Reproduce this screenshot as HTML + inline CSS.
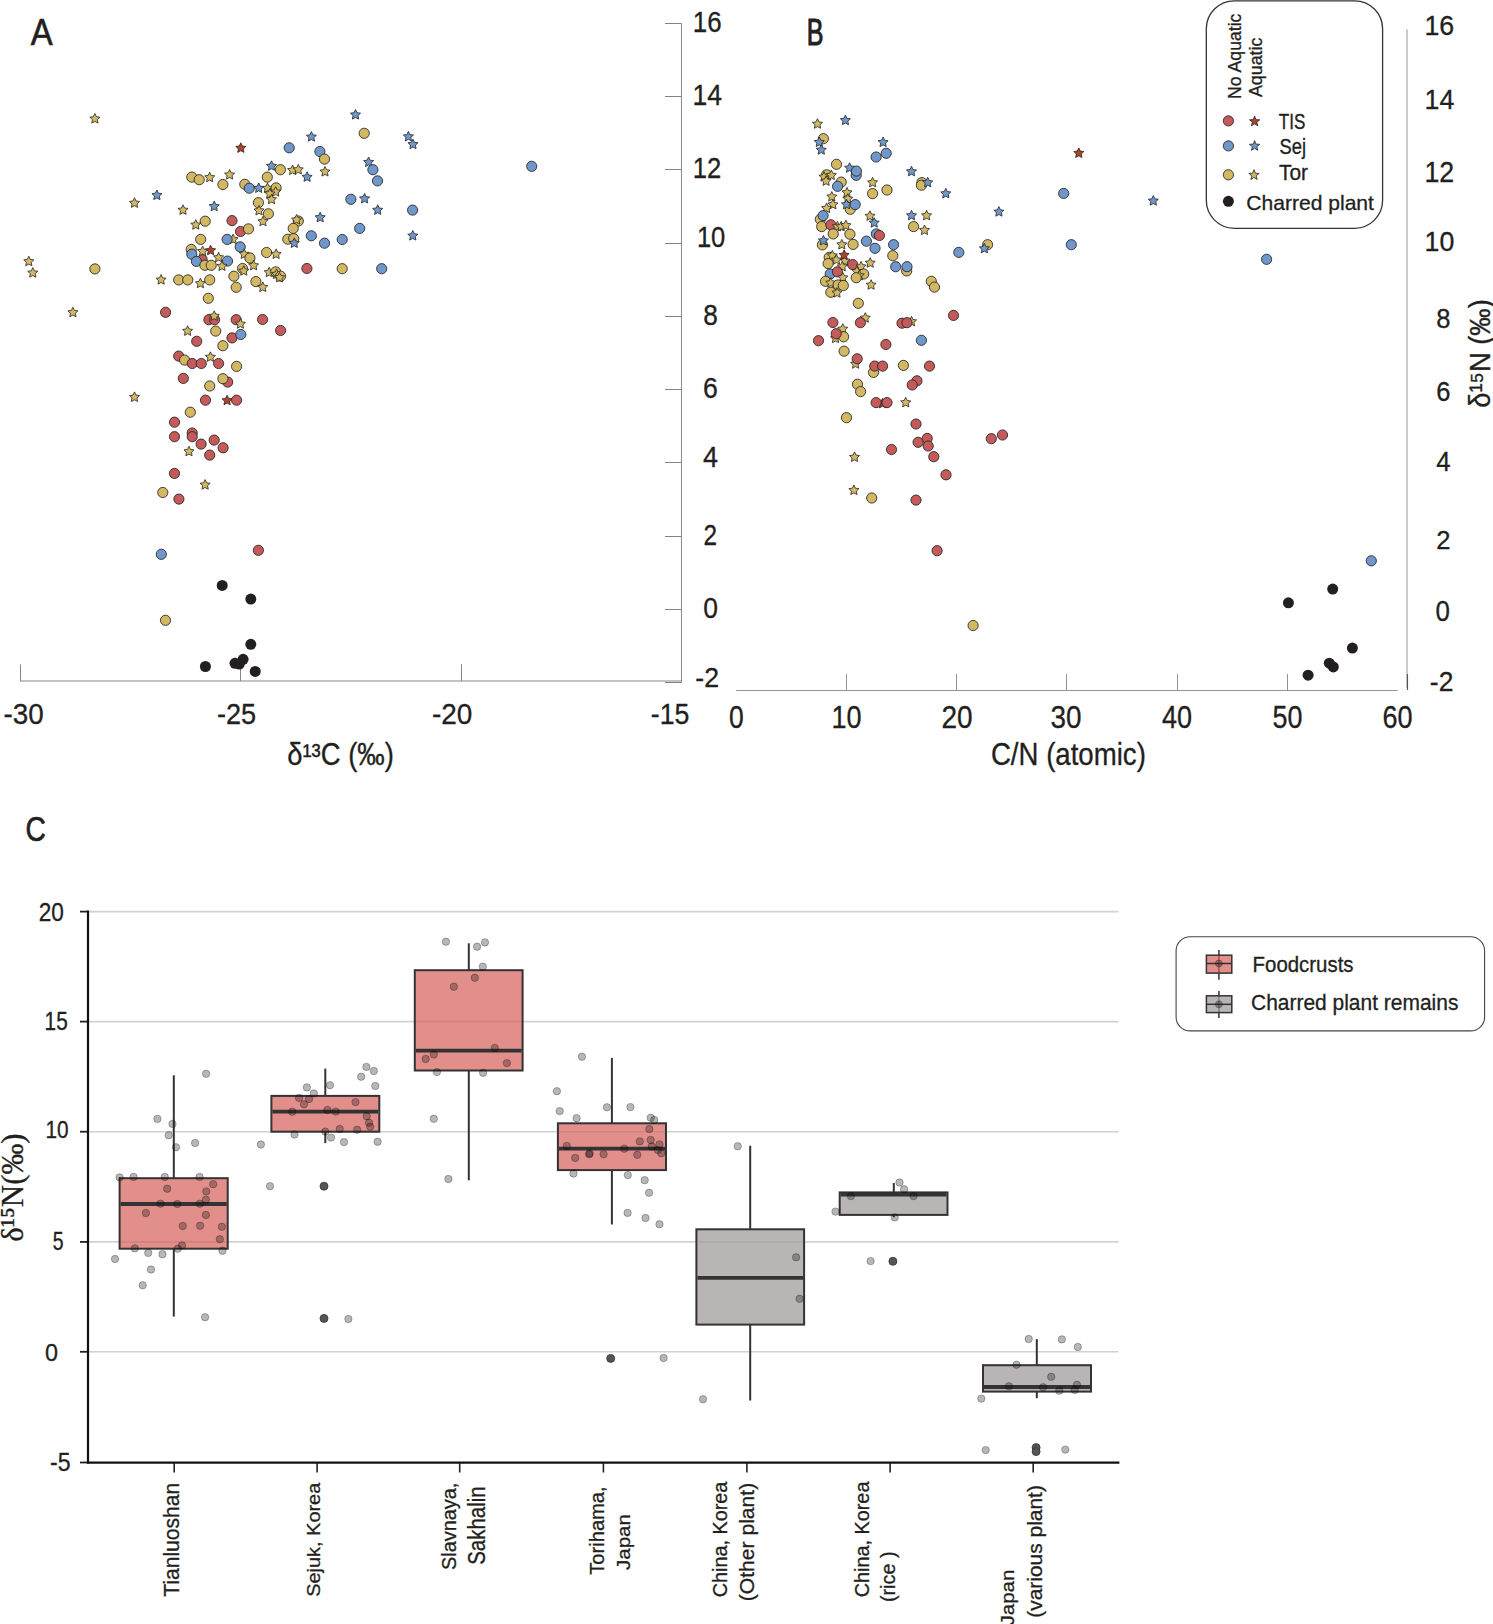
<!DOCTYPE html>
<html><head><meta charset="utf-8"><style>
html,body{margin:0;padding:0;background:#fff;}
body{width:1493px;height:1624px;overflow:hidden;font-family:"Liberation Sans",sans-serif;}
svg{display:block;}
</style></head><body>
<svg width="1493" height="1624" viewBox="0 0 1493 1624">
<rect width="1493" height="1624" fill="#fff"/>
<line x1="20" y1="681" x2="682" y2="681" stroke="#c2c2c2" stroke-width="2" />
<line x1="681.5" y1="23.3" x2="681.5" y2="682.6" stroke="#8a8a8a" stroke-width="1" />
<line x1="20.5" y1="664.4" x2="20.5" y2="681" stroke="#858585" stroke-width="1" />
<line x1="240.5" y1="664.4" x2="240.5" y2="681" stroke="#858585" stroke-width="1" />
<line x1="461.5" y1="664.4" x2="461.5" y2="681" stroke="#858585" stroke-width="1" />
<line x1="665" y1="23.5" x2="681.5" y2="23.5" stroke="#828282" stroke-width="1" />
<line x1="665" y1="96.5" x2="681.5" y2="96.5" stroke="#828282" stroke-width="1" />
<line x1="665" y1="169.5" x2="681.5" y2="169.5" stroke="#828282" stroke-width="1" />
<line x1="665" y1="243.5" x2="681.5" y2="243.5" stroke="#828282" stroke-width="1" />
<line x1="665" y1="316.5" x2="681.5" y2="316.5" stroke="#828282" stroke-width="1" />
<line x1="665" y1="389.5" x2="681.5" y2="389.5" stroke="#828282" stroke-width="1" />
<line x1="665" y1="462.5" x2="681.5" y2="462.5" stroke="#828282" stroke-width="1" />
<line x1="665" y1="536.5" x2="681.5" y2="536.5" stroke="#828282" stroke-width="1" />
<line x1="665" y1="609.5" x2="681.5" y2="609.5" stroke="#828282" stroke-width="1" />
<line x1="665" y1="682.5" x2="681.5" y2="682.5" stroke="#828282" stroke-width="1" />
<text transform="translate(692.80,31.81) scale(0.12973,0.14577)" font-family='"Liberation Sans", sans-serif' font-size="200" fill="#231f20" stroke="#231f20" stroke-width="2.18">16</text>
<text transform="translate(692.40,105.20) scale(0.13288,0.15072)" font-family='"Liberation Sans", sans-serif' font-size="200" fill="#231f20" stroke="#231f20" stroke-width="2.12">14</text>
<text transform="translate(692.80,178.20) scale(0.12793,0.14571)" font-family='"Liberation Sans", sans-serif' font-size="200" fill="#231f20" stroke="#231f20" stroke-width="2.19">12</text>
<text transform="translate(696.90,247.41) scale(0.12793,0.14718)" font-family='"Liberation Sans", sans-serif' font-size="200" fill="#231f20" stroke="#231f20" stroke-width="2.18">10</text>
<text transform="translate(703.30,324.60) scale(0.13153,0.14930)" font-family='"Liberation Sans", sans-serif' font-size="200" fill="#231f20" stroke="#231f20" stroke-width="2.14">8</text>
<text transform="translate(703.10,397.70) scale(0.13333,0.14789)" font-family='"Liberation Sans", sans-serif' font-size="200" fill="#231f20" stroke="#231f20" stroke-width="2.13">6</text>
<text transform="translate(702.90,467.40) scale(0.13514,0.15072)" font-family='"Liberation Sans", sans-serif' font-size="200" fill="#231f20" stroke="#231f20" stroke-width="2.10">4</text>
<text transform="translate(703.60,544.50) scale(0.12162,0.14286)" font-family='"Liberation Sans", sans-serif' font-size="200" fill="#231f20" stroke="#231f20" stroke-width="2.27">2</text>
<text transform="translate(703.30,617.71) scale(0.13243,0.14648)" font-family='"Liberation Sans", sans-serif' font-size="200" fill="#231f20" stroke="#231f20" stroke-width="2.15">0</text>
<text transform="translate(695.30,687.10) scale(0.13371,0.14286)" font-family='"Liberation Sans", sans-serif' font-size="200" fill="#231f20" stroke="#231f20" stroke-width="2.17">-2</text>
<text transform="translate(3.60,724.40) scale(0.13910,0.15141)" font-family='"Liberation Sans", sans-serif' font-size="200" fill="#231f20" stroke="#231f20" stroke-width="2.07">-30</text>
<text transform="translate(217.00,724.40) scale(0.13564,0.15141)" font-family='"Liberation Sans", sans-serif' font-size="200" fill="#231f20" stroke="#231f20" stroke-width="2.09">-25</text>
<text transform="translate(432.00,724.40) scale(0.13979,0.15141)" font-family='"Liberation Sans", sans-serif' font-size="200" fill="#231f20" stroke="#231f20" stroke-width="2.06">-20</text>
<text transform="translate(650.80,724.41) scale(0.13356,0.14357)" font-family='"Liberation Sans", sans-serif' font-size="200" fill="#231f20" stroke="#231f20" stroke-width="2.17">-15</text>
<text transform="translate(287.20,765.00) scale(0.13715,0.15580)" font-family='"Liberation Sans", sans-serif' font-size="200" fill="#231f20" stroke="#231f20" stroke-width="2.05">δ¹³C (‰)</text>
<text transform="translate(30.80,45.00) scale(0.16418,0.18623)" font-family='"Liberation Sans", sans-serif' font-size="200" fill="#231f20" stroke="#231f20" stroke-width="3.42">A</text>
<line x1="736.2" y1="690.5" x2="1397.7" y2="690.5" stroke="#939393" stroke-width="1" />
<line x1="846.5" y1="674" x2="846.5" y2="690.5" stroke="#909090" stroke-width="1" />
<line x1="956.5" y1="674" x2="956.5" y2="690.5" stroke="#909090" stroke-width="1" />
<line x1="1066.5" y1="674" x2="1066.5" y2="690.5" stroke="#909090" stroke-width="1" />
<line x1="1177.5" y1="674" x2="1177.5" y2="690.5" stroke="#909090" stroke-width="1" />
<line x1="1287.5" y1="674" x2="1287.5" y2="690.5" stroke="#909090" stroke-width="1" />
<line x1="1407" y1="29.2" x2="1407" y2="688" stroke="#c4c4c4" stroke-width="1.8" />
<line x1="1407.5" y1="674" x2="1407.5" y2="690" stroke="#555" stroke-width="1.1" />
<text transform="translate(729.00,727.69) scale(0.13243,0.15352)" font-family='"Liberation Sans", sans-serif' font-size="200" fill="#231f20" stroke="#231f20" stroke-width="2.10">0</text>
<text transform="translate(831.40,727.69) scale(0.13514,0.15352)" font-family='"Liberation Sans", sans-serif' font-size="200" fill="#231f20" stroke="#231f20" stroke-width="2.08">10</text>
<text transform="translate(941.40,727.69) scale(0.14009,0.15352)" font-family='"Liberation Sans", sans-serif' font-size="200" fill="#231f20" stroke="#231f20" stroke-width="2.04">20</text>
<text transform="translate(1050.40,727.69) scale(0.13964,0.15352)" font-family='"Liberation Sans", sans-serif' font-size="200" fill="#231f20" stroke="#231f20" stroke-width="2.05">30</text>
<text transform="translate(1162.00,727.69) scale(0.13514,0.15352)" font-family='"Liberation Sans", sans-serif' font-size="200" fill="#231f20" stroke="#231f20" stroke-width="2.08">40</text>
<text transform="translate(1272.60,727.69) scale(0.13468,0.15352)" font-family='"Liberation Sans", sans-serif' font-size="200" fill="#231f20" stroke="#231f20" stroke-width="2.08">50</text>
<text transform="translate(1382.60,727.69) scale(0.13514,0.15352)" font-family='"Liberation Sans", sans-serif' font-size="200" fill="#231f20" stroke="#231f20" stroke-width="2.08">60</text>
<text transform="translate(1424.50,35.13) scale(0.13378,0.13662)" font-family='"Liberation Sans", sans-serif' font-size="200" fill="#231f20" stroke="#231f20" stroke-width="2.22">16</text>
<text transform="translate(1424.50,108.60) scale(0.13378,0.14058)" font-family='"Liberation Sans", sans-serif' font-size="200" fill="#231f20" stroke="#231f20" stroke-width="2.19">14</text>
<text transform="translate(1424.50,181.80) scale(0.13378,0.14429)" font-family='"Liberation Sans", sans-serif' font-size="200" fill="#231f20" stroke="#231f20" stroke-width="2.16">12</text>
<text transform="translate(1424.50,251.12) scale(0.13378,0.14085)" font-family='"Liberation Sans", sans-serif' font-size="200" fill="#231f20" stroke="#231f20" stroke-width="2.18">10</text>
<text transform="translate(1436.20,327.53) scale(0.12793,0.13662)" font-family='"Liberation Sans", sans-serif' font-size="200" fill="#231f20" stroke="#231f20" stroke-width="2.27">8</text>
<text transform="translate(1436.20,401.13) scale(0.12793,0.13662)" font-family='"Liberation Sans", sans-serif' font-size="200" fill="#231f20" stroke="#231f20" stroke-width="2.27">6</text>
<text transform="translate(1436.20,471.20) scale(0.12793,0.14058)" font-family='"Liberation Sans", sans-serif' font-size="200" fill="#231f20" stroke="#231f20" stroke-width="2.23">4</text>
<text transform="translate(1436.20,548.70) scale(0.12793,0.12929)" font-family='"Liberation Sans", sans-serif' font-size="200" fill="#231f20" stroke="#231f20" stroke-width="2.33">2</text>
<text transform="translate(1435.50,621.21) scale(0.12973,0.14648)" font-family='"Liberation Sans", sans-serif' font-size="200" fill="#231f20" stroke="#231f20" stroke-width="2.17">0</text>
<text transform="translate(1429.80,690.70) scale(0.13258,0.13929)" font-family='"Liberation Sans", sans-serif' font-size="200" fill="#231f20" stroke="#231f20" stroke-width="2.21">-2</text>
<text transform="translate(990.90,765.20) scale(0.13815,0.15362)" font-family='"Liberation Sans", sans-serif' font-size="200" fill="#231f20" stroke="#231f20" stroke-width="2.06">C/N (atomic)</text>
<text transform="translate(1489.50,407.70) rotate(-90) scale(0.13665,0.15000)" font-family='"Liberation Sans", sans-serif' font-size="200" fill="#231f20" stroke="#231f20" stroke-width="2.09">δ¹⁵N (‰)</text>
<text transform="translate(806.80,44.60) scale(0.12556,0.18188)" font-family='"Liberation Sans", sans-serif' font-size="200" fill="#231f20" stroke="#231f20" stroke-width="5.85">B</text>
<rect x="1206.3" y="0.8" width="176.3" height="227.5" rx="28" ry="28" fill="none" stroke="#333" stroke-width="1.3"/>
<text transform="translate(1240.90,98.90) rotate(-90) scale(0.08821,0.09565)" font-family='"Liberation Sans", sans-serif' font-size="200" fill="#231f20" stroke="#231f20" stroke-width="3.26">No Aquatic</text>
<text transform="translate(1262.20,97.10) rotate(-90) scale(0.08921,0.09638)" font-family='"Liberation Sans", sans-serif' font-size="200" fill="#231f20" stroke="#231f20" stroke-width="3.23">Aquatic</text>
<circle cx="1228.4" cy="120.9" r="5.1" fill="#c55a5a" stroke="#222" stroke-width="0.85"/>
<polygon points="1254.60,116.10 1255.95,119.64 1259.74,119.83 1256.79,122.21 1257.77,125.87 1254.60,123.80 1251.43,125.87 1252.41,122.21 1249.46,119.83 1253.25,119.64" fill="#b0412a" stroke="#222" stroke-width="0.8" stroke-linejoin="miter"/>
<circle cx="1228.4" cy="145.9" r="5.1" fill="#7097c9" stroke="#222" stroke-width="0.85"/>
<polygon points="1254.60,140.60 1255.95,144.14 1259.74,144.33 1256.79,146.71 1257.77,150.37 1254.60,148.30 1251.43,150.37 1252.41,146.71 1249.46,144.33 1253.25,144.14" fill="#7097c9" stroke="#222" stroke-width="0.8" stroke-linejoin="miter"/>
<circle cx="1228.4" cy="174.8" r="5.1" fill="#d3b863" stroke="#222" stroke-width="0.85"/>
<polygon points="1254.00,169.70 1255.35,173.24 1259.14,173.43 1256.19,175.81 1257.17,179.47 1254.00,177.40 1250.83,179.47 1251.81,175.81 1248.86,173.43 1252.65,173.24" fill="#d3b863" stroke="#222" stroke-width="0.8" stroke-linejoin="miter"/>
<circle cx="1228.4" cy="201.3" r="5.5" fill="#231f20"/>
<text transform="translate(1278.70,129.09) scale(0.08553,0.10704)" font-family='"Liberation Sans", sans-serif' font-size="200" fill="#231f20" stroke="#231f20" stroke-width="3.12">TIS</text>
<text transform="translate(1279.50,154.40) scale(0.09170,0.10725)" font-family='"Liberation Sans", sans-serif' font-size="200" fill="#231f20" stroke="#231f20" stroke-width="3.02">Sej</text>
<text transform="translate(1279.00,180.39) scale(0.10432,0.10571)" font-family='"Liberation Sans", sans-serif' font-size="200" fill="#231f20" stroke="#231f20" stroke-width="2.86">Tor</text>
<text transform="translate(1246.20,209.50) scale(0.10545,0.10507)" font-family='"Liberation Sans", sans-serif' font-size="200" fill="#231f20" stroke="#231f20" stroke-width="2.85">Charred plant</text>
<text transform="translate(25.50,840.96) scale(0.14097,0.17183)" font-family='"Liberation Sans", sans-serif' font-size="200" fill="#231f20" stroke="#231f20" stroke-width="3.84">C</text>
<line x1="88" y1="911.6" x2="1118.6" y2="911.6" stroke="#d2d2d2" stroke-width="1.6" />
<line x1="88" y1="1021.6" x2="1118.6" y2="1021.6" stroke="#d2d2d2" stroke-width="1.6" />
<line x1="88" y1="1131.7" x2="1118.6" y2="1131.7" stroke="#d2d2d2" stroke-width="1.6" />
<line x1="88" y1="1241.9" x2="1118.6" y2="1241.9" stroke="#d2d2d2" stroke-width="1.6" />
<line x1="88" y1="1351.8" x2="1118.6" y2="1351.8" stroke="#d2d2d2" stroke-width="1.6" />
<line x1="80" y1="911.6" x2="88" y2="911.6" stroke="#231f20" stroke-width="1.8" />
<line x1="80" y1="1021.6" x2="88" y2="1021.6" stroke="#231f20" stroke-width="1.8" />
<line x1="80" y1="1131.7" x2="88" y2="1131.7" stroke="#231f20" stroke-width="1.8" />
<line x1="80" y1="1241.9" x2="88" y2="1241.9" stroke="#231f20" stroke-width="1.8" />
<line x1="80" y1="1351.8" x2="88" y2="1351.8" stroke="#231f20" stroke-width="1.8" />
<line x1="80" y1="1462.5" x2="88" y2="1462.5" stroke="#231f20" stroke-width="1.8" />
<text transform="translate(38.80,921.35) scale(0.11306,0.12465)" font-family='"Liberation Sans", sans-serif' font-size="200" fill="#231f20" stroke="#231f20" stroke-width="2.52">20</text>
<text transform="translate(44.60,1029.85) scale(0.10405,0.12643)" font-family='"Liberation Sans", sans-serif' font-size="200" fill="#231f20" stroke="#231f20" stroke-width="2.60">15</text>
<text transform="translate(45.40,1137.96) scale(0.10405,0.12113)" font-family='"Liberation Sans", sans-serif' font-size="200" fill="#231f20" stroke="#231f20" stroke-width="2.66">10</text>
<text transform="translate(52.70,1250.25) scale(0.09730,0.12643)" font-family='"Liberation Sans", sans-serif' font-size="200" fill="#231f20" stroke="#231f20" stroke-width="2.68">5</text>
<text transform="translate(45.00,1360.75) scale(0.11712,0.12324)" font-family='"Liberation Sans", sans-serif' font-size="200" fill="#231f20" stroke="#231f20" stroke-width="2.50">0</text>
<text transform="translate(50.00,1470.75) scale(0.11517,0.12500)" font-family='"Liberation Sans", sans-serif' font-size="200" fill="#231f20" stroke="#231f20" stroke-width="2.50">-5</text>
<text transform="translate(22.88,1241.70) rotate(-90) scale(0.15442,0.15628)" font-family='"Liberation Serif", serif' font-size="200" fill="#231f20" stroke="#231f20" stroke-width="1.93">δ¹⁵N(‰)</text>
<line x1="173.8" y1="1075.3" x2="173.8" y2="1178.2" stroke="#333" stroke-width="2" />
<line x1="173.8" y1="1248.7" x2="173.8" y2="1316.6" stroke="#333" stroke-width="2" />
<rect x="119.6" y="1178.2" width="108.1" height="70.5" fill="rgba(214,96,90,0.7)" stroke="#333" stroke-width="2"/>
<line x1="120.6" y1="1204" x2="226.7" y2="1204" stroke="#333" stroke-width="3.8" />
<line x1="325.3" y1="1068.6" x2="325.3" y2="1095.9" stroke="#333" stroke-width="2" />
<line x1="325.3" y1="1131.7" x2="325.3" y2="1143.1" stroke="#333" stroke-width="2" />
<rect x="271.4" y="1095.9" width="107.90000000000003" height="35.799999999999955" fill="rgba(214,96,90,0.7)" stroke="#333" stroke-width="2"/>
<line x1="272.4" y1="1111.6" x2="378.3" y2="1111.6" stroke="#333" stroke-width="3.8" />
<line x1="468.8" y1="943.3" x2="468.8" y2="970.2" stroke="#333" stroke-width="2" />
<line x1="468.8" y1="1070.5" x2="468.8" y2="1180.3" stroke="#333" stroke-width="2" />
<rect x="414.8" y="970.2" width="107.80000000000001" height="100.29999999999995" fill="rgba(214,96,90,0.7)" stroke="#333" stroke-width="2"/>
<line x1="415.8" y1="1050.7" x2="521.6" y2="1050.7" stroke="#333" stroke-width="3.8" />
<line x1="611.9" y1="1057.9" x2="611.9" y2="1123.3" stroke="#333" stroke-width="2" />
<line x1="611.9" y1="1170.1" x2="611.9" y2="1224.5" stroke="#333" stroke-width="2" />
<rect x="557.9" y="1123.3" width="108.10000000000002" height="46.799999999999955" fill="rgba(214,96,90,0.7)" stroke="#333" stroke-width="2"/>
<line x1="558.9" y1="1148.7" x2="665" y2="1148.7" stroke="#333" stroke-width="3.8" />
<line x1="750.2" y1="1145.7" x2="750.2" y2="1229.3" stroke="#333" stroke-width="2" />
<line x1="750.2" y1="1324.6" x2="750.2" y2="1400.5" stroke="#333" stroke-width="2" />
<rect x="696.4" y="1229.3" width="107.70000000000005" height="95.29999999999995" fill="rgba(160,154,154,0.73)" stroke="#333" stroke-width="2"/>
<line x1="697.4" y1="1277.9" x2="803.1" y2="1277.9" stroke="#333" stroke-width="3.8" />
<line x1="893.8" y1="1183" x2="893.8" y2="1192.4" stroke="#333" stroke-width="2" />
<line x1="893.8" y1="1214.9" x2="893.8" y2="1217.2" stroke="#333" stroke-width="2" />
<rect x="839.7" y="1192.4" width="107.79999999999995" height="22.5" fill="rgba(160,154,154,0.73)" stroke="#333" stroke-width="2"/>
<line x1="840.7" y1="1194.7" x2="946.5" y2="1194.7" stroke="#333" stroke-width="3.8" />
<line x1="1036.8" y1="1339.1" x2="1036.8" y2="1365.2" stroke="#333" stroke-width="2" />
<line x1="1036.8" y1="1391.6" x2="1036.8" y2="1398.2" stroke="#333" stroke-width="2" />
<rect x="983" y="1365.2" width="108" height="26.399999999999864" fill="rgba(160,154,154,0.73)" stroke="#333" stroke-width="2"/>
<line x1="984" y1="1387" x2="1090" y2="1387" stroke="#333" stroke-width="3.8" />
<circle cx="324" cy="1186.2" r="4" fill="#555" stroke="#333" stroke-width="0.8"/>
<circle cx="324" cy="1318.4" r="4" fill="#555" stroke="#333" stroke-width="0.8"/>
<circle cx="610.7" cy="1358.4" r="4" fill="#555" stroke="#333" stroke-width="0.8"/>
<circle cx="892.9" cy="1261.3" r="4" fill="#555" stroke="#333" stroke-width="0.8"/>
<circle cx="1036.1" cy="1447.6" r="4" fill="#555" stroke="#333" stroke-width="0.8"/>
<circle cx="1036.1" cy="1451.6" r="4" fill="#555" stroke="#333" stroke-width="0.8"/>
<circle cx="206.1" cy="1073.8" r="3.7" fill="rgba(15,15,15,0.3)" stroke="rgba(0,0,0,0.35)" stroke-width="0.8"/>
<circle cx="157.4" cy="1118.9" r="3.7" fill="rgba(15,15,15,0.3)" stroke="rgba(0,0,0,0.35)" stroke-width="0.8"/>
<circle cx="172.5" cy="1123.9" r="3.7" fill="rgba(15,15,15,0.3)" stroke="rgba(0,0,0,0.35)" stroke-width="0.8"/>
<circle cx="168.7" cy="1135.3" r="3.7" fill="rgba(15,15,15,0.3)" stroke="rgba(0,0,0,0.35)" stroke-width="0.8"/>
<circle cx="195.1" cy="1143" r="3.7" fill="rgba(15,15,15,0.3)" stroke="rgba(0,0,0,0.35)" stroke-width="0.8"/>
<circle cx="176" cy="1147.3" r="3.7" fill="rgba(15,15,15,0.3)" stroke="rgba(0,0,0,0.35)" stroke-width="0.8"/>
<circle cx="119.6" cy="1177.4" r="3.7" fill="rgba(15,15,15,0.3)" stroke="rgba(0,0,0,0.35)" stroke-width="0.8"/>
<circle cx="133.6" cy="1176.9" r="3.7" fill="rgba(15,15,15,0.3)" stroke="rgba(0,0,0,0.35)" stroke-width="0.8"/>
<circle cx="164.8" cy="1176.9" r="3.7" fill="rgba(15,15,15,0.3)" stroke="rgba(0,0,0,0.35)" stroke-width="0.8"/>
<circle cx="199.6" cy="1176.9" r="3.7" fill="rgba(15,15,15,0.3)" stroke="rgba(0,0,0,0.35)" stroke-width="0.8"/>
<circle cx="213.2" cy="1184.2" r="3.7" fill="rgba(15,15,15,0.3)" stroke="rgba(0,0,0,0.35)" stroke-width="0.8"/>
<circle cx="167.2" cy="1188.7" r="3.7" fill="rgba(15,15,15,0.3)" stroke="rgba(0,0,0,0.35)" stroke-width="0.8"/>
<circle cx="206.3" cy="1191.4" r="3.7" fill="rgba(15,15,15,0.3)" stroke="rgba(0,0,0,0.35)" stroke-width="0.8"/>
<circle cx="205.9" cy="1199.7" r="3.7" fill="rgba(15,15,15,0.3)" stroke="rgba(0,0,0,0.35)" stroke-width="0.8"/>
<circle cx="160.5" cy="1203.7" r="3.7" fill="rgba(15,15,15,0.3)" stroke="rgba(0,0,0,0.35)" stroke-width="0.8"/>
<circle cx="177.3" cy="1204" r="3.7" fill="rgba(15,15,15,0.3)" stroke="rgba(0,0,0,0.35)" stroke-width="0.8"/>
<circle cx="199.8" cy="1203.7" r="3.7" fill="rgba(15,15,15,0.3)" stroke="rgba(0,0,0,0.35)" stroke-width="0.8"/>
<circle cx="145.9" cy="1213" r="3.7" fill="rgba(15,15,15,0.3)" stroke="rgba(0,0,0,0.35)" stroke-width="0.8"/>
<circle cx="205.9" cy="1215" r="3.7" fill="rgba(15,15,15,0.3)" stroke="rgba(0,0,0,0.35)" stroke-width="0.8"/>
<circle cx="182.8" cy="1226" r="3.7" fill="rgba(15,15,15,0.3)" stroke="rgba(0,0,0,0.35)" stroke-width="0.8"/>
<circle cx="200.1" cy="1225.8" r="3.7" fill="rgba(15,15,15,0.3)" stroke="rgba(0,0,0,0.35)" stroke-width="0.8"/>
<circle cx="221.9" cy="1226.8" r="3.7" fill="rgba(15,15,15,0.3)" stroke="rgba(0,0,0,0.35)" stroke-width="0.8"/>
<circle cx="219.9" cy="1239.2" r="3.7" fill="rgba(15,15,15,0.3)" stroke="rgba(0,0,0,0.35)" stroke-width="0.8"/>
<circle cx="182" cy="1245.4" r="3.7" fill="rgba(15,15,15,0.3)" stroke="rgba(0,0,0,0.35)" stroke-width="0.8"/>
<circle cx="177.8" cy="1248.7" r="3.7" fill="rgba(15,15,15,0.3)" stroke="rgba(0,0,0,0.35)" stroke-width="0.8"/>
<circle cx="134.8" cy="1248.4" r="3.7" fill="rgba(15,15,15,0.3)" stroke="rgba(0,0,0,0.35)" stroke-width="0.8"/>
<circle cx="222.5" cy="1250.7" r="3.7" fill="rgba(15,15,15,0.3)" stroke="rgba(0,0,0,0.35)" stroke-width="0.8"/>
<circle cx="148.2" cy="1252.9" r="3.7" fill="rgba(15,15,15,0.3)" stroke="rgba(0,0,0,0.35)" stroke-width="0.8"/>
<circle cx="162.5" cy="1254.2" r="3.7" fill="rgba(15,15,15,0.3)" stroke="rgba(0,0,0,0.35)" stroke-width="0.8"/>
<circle cx="115" cy="1259" r="3.7" fill="rgba(15,15,15,0.3)" stroke="rgba(0,0,0,0.35)" stroke-width="0.8"/>
<circle cx="151" cy="1269.5" r="3.7" fill="rgba(15,15,15,0.3)" stroke="rgba(0,0,0,0.35)" stroke-width="0.8"/>
<circle cx="142.7" cy="1285.3" r="3.7" fill="rgba(15,15,15,0.3)" stroke="rgba(0,0,0,0.35)" stroke-width="0.8"/>
<circle cx="205.1" cy="1317.2" r="3.7" fill="rgba(15,15,15,0.3)" stroke="rgba(0,0,0,0.35)" stroke-width="0.8"/>
<circle cx="366.4" cy="1066.9" r="3.7" fill="rgba(15,15,15,0.3)" stroke="rgba(0,0,0,0.35)" stroke-width="0.8"/>
<circle cx="373.8" cy="1071" r="3.7" fill="rgba(15,15,15,0.3)" stroke="rgba(0,0,0,0.35)" stroke-width="0.8"/>
<circle cx="361.2" cy="1076.7" r="3.7" fill="rgba(15,15,15,0.3)" stroke="rgba(0,0,0,0.35)" stroke-width="0.8"/>
<circle cx="375.3" cy="1086" r="3.7" fill="rgba(15,15,15,0.3)" stroke="rgba(0,0,0,0.35)" stroke-width="0.8"/>
<circle cx="330" cy="1085.2" r="3.7" fill="rgba(15,15,15,0.3)" stroke="rgba(0,0,0,0.35)" stroke-width="0.8"/>
<circle cx="306.9" cy="1087.4" r="3.7" fill="rgba(15,15,15,0.3)" stroke="rgba(0,0,0,0.35)" stroke-width="0.8"/>
<circle cx="313.8" cy="1093.4" r="3.7" fill="rgba(15,15,15,0.3)" stroke="rgba(0,0,0,0.35)" stroke-width="0.8"/>
<circle cx="299.1" cy="1097.9" r="3.7" fill="rgba(15,15,15,0.3)" stroke="rgba(0,0,0,0.35)" stroke-width="0.8"/>
<circle cx="309" cy="1099.1" r="3.7" fill="rgba(15,15,15,0.3)" stroke="rgba(0,0,0,0.35)" stroke-width="0.8"/>
<circle cx="304" cy="1104.3" r="3.7" fill="rgba(15,15,15,0.3)" stroke="rgba(0,0,0,0.35)" stroke-width="0.8"/>
<circle cx="355.5" cy="1102.1" r="3.7" fill="rgba(15,15,15,0.3)" stroke="rgba(0,0,0,0.35)" stroke-width="0.8"/>
<circle cx="292.2" cy="1111.7" r="3.7" fill="rgba(15,15,15,0.3)" stroke="rgba(0,0,0,0.35)" stroke-width="0.8"/>
<circle cx="327.4" cy="1110" r="3.7" fill="rgba(15,15,15,0.3)" stroke="rgba(0,0,0,0.35)" stroke-width="0.8"/>
<circle cx="335.7" cy="1111.6" r="3.7" fill="rgba(15,15,15,0.3)" stroke="rgba(0,0,0,0.35)" stroke-width="0.8"/>
<circle cx="366.7" cy="1116.2" r="3.7" fill="rgba(15,15,15,0.3)" stroke="rgba(0,0,0,0.35)" stroke-width="0.8"/>
<circle cx="369" cy="1122.8" r="3.7" fill="rgba(15,15,15,0.3)" stroke="rgba(0,0,0,0.35)" stroke-width="0.8"/>
<circle cx="370.2" cy="1126.7" r="3.7" fill="rgba(15,15,15,0.3)" stroke="rgba(0,0,0,0.35)" stroke-width="0.8"/>
<circle cx="339.7" cy="1129" r="3.7" fill="rgba(15,15,15,0.3)" stroke="rgba(0,0,0,0.35)" stroke-width="0.8"/>
<circle cx="357.1" cy="1129.7" r="3.7" fill="rgba(15,15,15,0.3)" stroke="rgba(0,0,0,0.35)" stroke-width="0.8"/>
<circle cx="325.3" cy="1131.6" r="3.7" fill="rgba(15,15,15,0.3)" stroke="rgba(0,0,0,0.35)" stroke-width="0.8"/>
<circle cx="294.5" cy="1134.5" r="3.7" fill="rgba(15,15,15,0.3)" stroke="rgba(0,0,0,0.35)" stroke-width="0.8"/>
<circle cx="331" cy="1137.6" r="3.7" fill="rgba(15,15,15,0.3)" stroke="rgba(0,0,0,0.35)" stroke-width="0.8"/>
<circle cx="344" cy="1142.1" r="3.7" fill="rgba(15,15,15,0.3)" stroke="rgba(0,0,0,0.35)" stroke-width="0.8"/>
<circle cx="377.6" cy="1141.7" r="3.7" fill="rgba(15,15,15,0.3)" stroke="rgba(0,0,0,0.35)" stroke-width="0.8"/>
<circle cx="260.9" cy="1144.5" r="3.7" fill="rgba(15,15,15,0.3)" stroke="rgba(0,0,0,0.35)" stroke-width="0.8"/>
<circle cx="270" cy="1186.2" r="3.7" fill="rgba(15,15,15,0.3)" stroke="rgba(0,0,0,0.35)" stroke-width="0.8"/>
<circle cx="348.4" cy="1319" r="3.7" fill="rgba(15,15,15,0.3)" stroke="rgba(0,0,0,0.35)" stroke-width="0.8"/>
<circle cx="445.9" cy="941.7" r="3.7" fill="rgba(15,15,15,0.3)" stroke="rgba(0,0,0,0.35)" stroke-width="0.8"/>
<circle cx="477.1" cy="946.7" r="3.7" fill="rgba(15,15,15,0.3)" stroke="rgba(0,0,0,0.35)" stroke-width="0.8"/>
<circle cx="485" cy="942.4" r="3.7" fill="rgba(15,15,15,0.3)" stroke="rgba(0,0,0,0.35)" stroke-width="0.8"/>
<circle cx="482.8" cy="966.6" r="3.7" fill="rgba(15,15,15,0.3)" stroke="rgba(0,0,0,0.35)" stroke-width="0.8"/>
<circle cx="474.8" cy="977.8" r="3.7" fill="rgba(15,15,15,0.3)" stroke="rgba(0,0,0,0.35)" stroke-width="0.8"/>
<circle cx="453.8" cy="986.7" r="3.7" fill="rgba(15,15,15,0.3)" stroke="rgba(0,0,0,0.35)" stroke-width="0.8"/>
<circle cx="494.8" cy="1047.9" r="3.7" fill="rgba(15,15,15,0.3)" stroke="rgba(0,0,0,0.35)" stroke-width="0.8"/>
<circle cx="433.8" cy="1054.5" r="3.7" fill="rgba(15,15,15,0.3)" stroke="rgba(0,0,0,0.35)" stroke-width="0.8"/>
<circle cx="425.7" cy="1059" r="3.7" fill="rgba(15,15,15,0.3)" stroke="rgba(0,0,0,0.35)" stroke-width="0.8"/>
<circle cx="506.9" cy="1063.1" r="3.7" fill="rgba(15,15,15,0.3)" stroke="rgba(0,0,0,0.35)" stroke-width="0.8"/>
<circle cx="436.9" cy="1072.1" r="3.7" fill="rgba(15,15,15,0.3)" stroke="rgba(0,0,0,0.35)" stroke-width="0.8"/>
<circle cx="483.1" cy="1072.8" r="3.7" fill="rgba(15,15,15,0.3)" stroke="rgba(0,0,0,0.35)" stroke-width="0.8"/>
<circle cx="433.8" cy="1118.8" r="3.7" fill="rgba(15,15,15,0.3)" stroke="rgba(0,0,0,0.35)" stroke-width="0.8"/>
<circle cx="448.4" cy="1179" r="3.7" fill="rgba(15,15,15,0.3)" stroke="rgba(0,0,0,0.35)" stroke-width="0.8"/>
<circle cx="581.9" cy="1056.7" r="3.7" fill="rgba(15,15,15,0.3)" stroke="rgba(0,0,0,0.35)" stroke-width="0.8"/>
<circle cx="556.9" cy="1091.2" r="3.7" fill="rgba(15,15,15,0.3)" stroke="rgba(0,0,0,0.35)" stroke-width="0.8"/>
<circle cx="559.7" cy="1111.1" r="3.7" fill="rgba(15,15,15,0.3)" stroke="rgba(0,0,0,0.35)" stroke-width="0.8"/>
<circle cx="576.6" cy="1118.2" r="3.7" fill="rgba(15,15,15,0.3)" stroke="rgba(0,0,0,0.35)" stroke-width="0.8"/>
<circle cx="606.9" cy="1107.3" r="3.7" fill="rgba(15,15,15,0.3)" stroke="rgba(0,0,0,0.35)" stroke-width="0.8"/>
<circle cx="630.4" cy="1107.1" r="3.7" fill="rgba(15,15,15,0.3)" stroke="rgba(0,0,0,0.35)" stroke-width="0.8"/>
<circle cx="650.7" cy="1117.8" r="3.7" fill="rgba(15,15,15,0.3)" stroke="rgba(0,0,0,0.35)" stroke-width="0.8"/>
<circle cx="654.2" cy="1119.9" r="3.7" fill="rgba(15,15,15,0.3)" stroke="rgba(0,0,0,0.35)" stroke-width="0.8"/>
<circle cx="649.3" cy="1129" r="3.7" fill="rgba(15,15,15,0.3)" stroke="rgba(0,0,0,0.35)" stroke-width="0.8"/>
<circle cx="639.8" cy="1141.4" r="3.7" fill="rgba(15,15,15,0.3)" stroke="rgba(0,0,0,0.35)" stroke-width="0.8"/>
<circle cx="650.7" cy="1140" r="3.7" fill="rgba(15,15,15,0.3)" stroke="rgba(0,0,0,0.35)" stroke-width="0.8"/>
<circle cx="659.5" cy="1144.4" r="3.7" fill="rgba(15,15,15,0.3)" stroke="rgba(0,0,0,0.35)" stroke-width="0.8"/>
<circle cx="651.8" cy="1146.5" r="3.7" fill="rgba(15,15,15,0.3)" stroke="rgba(0,0,0,0.35)" stroke-width="0.8"/>
<circle cx="657.9" cy="1150.1" r="3.7" fill="rgba(15,15,15,0.3)" stroke="rgba(0,0,0,0.35)" stroke-width="0.8"/>
<circle cx="661.3" cy="1153.2" r="3.7" fill="rgba(15,15,15,0.3)" stroke="rgba(0,0,0,0.35)" stroke-width="0.8"/>
<circle cx="566.8" cy="1145.9" r="3.7" fill="rgba(15,15,15,0.3)" stroke="rgba(0,0,0,0.35)" stroke-width="0.8"/>
<circle cx="624.3" cy="1148.7" r="3.7" fill="rgba(15,15,15,0.3)" stroke="rgba(0,0,0,0.35)" stroke-width="0.8"/>
<circle cx="589.6" cy="1153.4" r="3.7" fill="rgba(15,15,15,0.3)" stroke="rgba(0,0,0,0.35)" stroke-width="0.8"/>
<circle cx="589.2" cy="1154.2" r="3.7" fill="rgba(15,15,15,0.3)" stroke="rgba(0,0,0,0.35)" stroke-width="0.8"/>
<circle cx="603.6" cy="1154.2" r="3.7" fill="rgba(15,15,15,0.3)" stroke="rgba(0,0,0,0.35)" stroke-width="0.8"/>
<circle cx="637.3" cy="1154.8" r="3.7" fill="rgba(15,15,15,0.3)" stroke="rgba(0,0,0,0.35)" stroke-width="0.8"/>
<circle cx="575.2" cy="1157.9" r="3.7" fill="rgba(15,15,15,0.3)" stroke="rgba(0,0,0,0.35)" stroke-width="0.8"/>
<circle cx="573.5" cy="1173.5" r="3.7" fill="rgba(15,15,15,0.3)" stroke="rgba(0,0,0,0.35)" stroke-width="0.8"/>
<circle cx="627.8" cy="1175.1" r="3.7" fill="rgba(15,15,15,0.3)" stroke="rgba(0,0,0,0.35)" stroke-width="0.8"/>
<circle cx="644.7" cy="1180.2" r="3.7" fill="rgba(15,15,15,0.3)" stroke="rgba(0,0,0,0.35)" stroke-width="0.8"/>
<circle cx="649.1" cy="1192.8" r="3.7" fill="rgba(15,15,15,0.3)" stroke="rgba(0,0,0,0.35)" stroke-width="0.8"/>
<circle cx="627.6" cy="1212.9" r="3.7" fill="rgba(15,15,15,0.3)" stroke="rgba(0,0,0,0.35)" stroke-width="0.8"/>
<circle cx="645.5" cy="1218" r="3.7" fill="rgba(15,15,15,0.3)" stroke="rgba(0,0,0,0.35)" stroke-width="0.8"/>
<circle cx="659.5" cy="1224.3" r="3.7" fill="rgba(15,15,15,0.3)" stroke="rgba(0,0,0,0.35)" stroke-width="0.8"/>
<circle cx="663.6" cy="1358" r="3.7" fill="rgba(15,15,15,0.3)" stroke="rgba(0,0,0,0.35)" stroke-width="0.8"/>
<circle cx="737.7" cy="1146.3" r="3.7" fill="rgba(15,15,15,0.3)" stroke="rgba(0,0,0,0.35)" stroke-width="0.8"/>
<circle cx="796.1" cy="1257.3" r="3.7" fill="rgba(15,15,15,0.3)" stroke="rgba(0,0,0,0.35)" stroke-width="0.8"/>
<circle cx="799.6" cy="1298.8" r="3.7" fill="rgba(15,15,15,0.3)" stroke="rgba(0,0,0,0.35)" stroke-width="0.8"/>
<circle cx="703" cy="1399.3" r="3.7" fill="rgba(15,15,15,0.3)" stroke="rgba(0,0,0,0.35)" stroke-width="0.8"/>
<circle cx="899.5" cy="1182.5" r="3.7" fill="rgba(15,15,15,0.3)" stroke="rgba(0,0,0,0.35)" stroke-width="0.8"/>
<circle cx="904.1" cy="1189.3" r="3.7" fill="rgba(15,15,15,0.3)" stroke="rgba(0,0,0,0.35)" stroke-width="0.8"/>
<circle cx="850.9" cy="1196.1" r="3.7" fill="rgba(15,15,15,0.3)" stroke="rgba(0,0,0,0.35)" stroke-width="0.8"/>
<circle cx="913.6" cy="1196.1" r="3.7" fill="rgba(15,15,15,0.3)" stroke="rgba(0,0,0,0.35)" stroke-width="0.8"/>
<circle cx="835.5" cy="1211.6" r="3.7" fill="rgba(15,15,15,0.3)" stroke="rgba(0,0,0,0.35)" stroke-width="0.8"/>
<circle cx="894.7" cy="1217.4" r="3.7" fill="rgba(15,15,15,0.3)" stroke="rgba(0,0,0,0.35)" stroke-width="0.8"/>
<circle cx="870.6" cy="1261.1" r="3.7" fill="rgba(15,15,15,0.3)" stroke="rgba(0,0,0,0.35)" stroke-width="0.8"/>
<circle cx="1028.7" cy="1339" r="3.7" fill="rgba(15,15,15,0.3)" stroke="rgba(0,0,0,0.35)" stroke-width="0.8"/>
<circle cx="1061.9" cy="1339.4" r="3.7" fill="rgba(15,15,15,0.3)" stroke="rgba(0,0,0,0.35)" stroke-width="0.8"/>
<circle cx="1077.8" cy="1347" r="3.7" fill="rgba(15,15,15,0.3)" stroke="rgba(0,0,0,0.35)" stroke-width="0.8"/>
<circle cx="1016.5" cy="1364.7" r="3.7" fill="rgba(15,15,15,0.3)" stroke="rgba(0,0,0,0.35)" stroke-width="0.8"/>
<circle cx="1051.2" cy="1376.8" r="3.7" fill="rgba(15,15,15,0.3)" stroke="rgba(0,0,0,0.35)" stroke-width="0.8"/>
<circle cx="1008.9" cy="1386.3" r="3.7" fill="rgba(15,15,15,0.3)" stroke="rgba(0,0,0,0.35)" stroke-width="0.8"/>
<circle cx="1043.1" cy="1387.3" r="3.7" fill="rgba(15,15,15,0.3)" stroke="rgba(0,0,0,0.35)" stroke-width="0.8"/>
<circle cx="1077" cy="1384.8" r="3.7" fill="rgba(15,15,15,0.3)" stroke="rgba(0,0,0,0.35)" stroke-width="0.8"/>
<circle cx="1059.3" cy="1390.7" r="3.7" fill="rgba(15,15,15,0.3)" stroke="rgba(0,0,0,0.35)" stroke-width="0.8"/>
<circle cx="1074.7" cy="1389.9" r="3.7" fill="rgba(15,15,15,0.3)" stroke="rgba(0,0,0,0.35)" stroke-width="0.8"/>
<circle cx="981.3" cy="1398.6" r="3.7" fill="rgba(15,15,15,0.3)" stroke="rgba(0,0,0,0.35)" stroke-width="0.8"/>
<circle cx="985.7" cy="1450.1" r="3.7" fill="rgba(15,15,15,0.3)" stroke="rgba(0,0,0,0.35)" stroke-width="0.8"/>
<circle cx="1065.3" cy="1449.6" r="3.7" fill="rgba(15,15,15,0.3)" stroke="rgba(0,0,0,0.35)" stroke-width="0.8"/>
<line x1="88" y1="910.6" x2="88" y2="1463.5" stroke="#111" stroke-width="2.2" />
<line x1="87" y1="1462.6" x2="1119.4" y2="1462.6" stroke="#111" stroke-width="2.4" />
<line x1="174.2" y1="1463" x2="174.2" y2="1472.5" stroke="#222" stroke-width="1.6" />
<line x1="317.1" y1="1463" x2="317.1" y2="1472.5" stroke="#222" stroke-width="1.6" />
<line x1="459.7" y1="1463" x2="459.7" y2="1472.5" stroke="#222" stroke-width="1.6" />
<line x1="603.4" y1="1463" x2="603.4" y2="1472.5" stroke="#222" stroke-width="1.6" />
<line x1="746.9" y1="1463" x2="746.9" y2="1472.5" stroke="#222" stroke-width="1.6" />
<line x1="890.1" y1="1463" x2="890.1" y2="1472.5" stroke="#222" stroke-width="1.6" />
<line x1="1033.2" y1="1463" x2="1033.2" y2="1472.5" stroke="#222" stroke-width="1.6" />
<text transform="translate(179.48,1596.80) rotate(-90) scale(0.10555,0.11224)" font-family='"Liberation Sans", sans-serif' font-size="200" fill="#231f20" stroke="#231f20" stroke-width="2.75">Tianluoshan</text>
<text transform="translate(320.21,1596.80) rotate(-90) scale(0.09965,0.09251)" font-family='"Liberation Sans", sans-serif' font-size="200" fill="#231f20" stroke="#231f20" stroke-width="3.12">Sejuk, Korea</text>
<text transform="translate(455.57,1570.00) rotate(-90) scale(0.09954,0.09840)" font-family='"Liberation Sans", sans-serif' font-size="200" fill="#231f20" stroke="#231f20" stroke-width="3.03">Slavnaya,</text>
<text transform="translate(485.26,1564.80) rotate(-90) scale(0.10235,0.11769)" font-family='"Liberation Sans", sans-serif' font-size="200" fill="#231f20" stroke="#231f20" stroke-width="2.73">Sakhalin</text>
<text transform="translate(604.37,1574.70) rotate(-90) scale(0.10068,0.10117)" font-family='"Liberation Sans", sans-serif' font-size="200" fill="#231f20" stroke="#231f20" stroke-width="2.97">Torihama,</text>
<text transform="translate(630.03,1570.00) rotate(-90) scale(0.10275,0.09444)" font-family='"Liberation Sans", sans-serif' font-size="200" fill="#231f20" stroke="#231f20" stroke-width="3.04">Japan</text>
<text transform="translate(727.19,1597.30) rotate(-90) scale(0.09914,0.09649)" font-family='"Liberation Sans", sans-serif' font-size="200" fill="#231f20" stroke="#231f20" stroke-width="3.07">China, Korea</text>
<text transform="translate(754.00,1601.20) rotate(-90) scale(0.10552,0.10481)" font-family='"Liberation Sans", sans-serif' font-size="200" fill="#231f20" stroke="#231f20" stroke-width="2.85">(Other plant)</text>
<text transform="translate(868.78,1597.30) rotate(-90) scale(0.09914,0.10058)" font-family='"Liberation Sans", sans-serif' font-size="200" fill="#231f20" stroke="#231f20" stroke-width="3.00">China, Korea</text>
<text transform="translate(895.33,1602.10) rotate(-90) scale(0.09922,0.09679)" font-family='"Liberation Sans", sans-serif' font-size="200" fill="#231f20" stroke="#231f20" stroke-width="3.06">(rice )</text>
<text transform="translate(1013.65,1625.50) rotate(-90) scale(0.10275,0.09167)" font-family='"Liberation Sans", sans-serif' font-size="200" fill="#231f20" stroke="#231f20" stroke-width="3.09">Japan</text>
<text transform="translate(1041.80,1617.70) rotate(-90) scale(0.10466,0.10481)" font-family='"Liberation Sans", sans-serif' font-size="200" fill="#231f20" stroke="#231f20" stroke-width="2.86">(various plant)</text>
<rect x="1176.1" y="936.7" width="308.5" height="94.2" rx="14" ry="14" fill="none" stroke="#444" stroke-width="1.1"/>
<line x1="1218.9" y1="950.1" x2="1218.9" y2="979.8" stroke="#333" stroke-width="1.5" />
<rect x="1206.4" y="955.2" width="25.4" height="17.899999999999977" fill="rgba(214,96,90,0.7)" stroke="#333" stroke-width="1.5"/>
<line x1="1206.4" y1="963.5" x2="1231.8" y2="963.5" stroke="#333" stroke-width="1.5" />
<circle cx="1218.9" cy="963.5" r="3.5" fill="rgba(15,15,15,0.3)" stroke="rgba(0,0,0,0.35)" stroke-width="0.8"/>
<line x1="1218.9" y1="990.9" x2="1218.9" y2="1018.1" stroke="#333" stroke-width="1.5" />
<rect x="1206.4" y="995.8" width="25.4" height="16.800000000000068" fill="rgba(160,154,154,0.73)" stroke="#333" stroke-width="1.5"/>
<line x1="1206.4" y1="1004.3" x2="1231.8" y2="1004.3" stroke="#333" stroke-width="1.5" />
<circle cx="1218.9" cy="1004.3" r="3.5" fill="rgba(15,15,15,0.3)" stroke="rgba(0,0,0,0.35)" stroke-width="0.8"/>
<text transform="translate(1252.60,972.19) scale(0.10212,0.10612)" font-family='"Liberation Sans", sans-serif' font-size="200" fill="#231f20" stroke="#231f20" stroke-width="2.88">Foodcrusts</text>
<text transform="translate(1251.00,1010.30) scale(0.10485,0.11304)" font-family='"Liberation Sans", sans-serif' font-size="200" fill="#231f20" stroke="#231f20" stroke-width="2.75">Charred plant remains</text>
<polygon points="240.80,142.80 242.33,146.00 245.84,146.46 243.27,148.90 243.92,152.39 240.80,150.70 237.68,152.39 238.33,148.90 235.76,146.46 239.27,146.00" fill="#b0412a" stroke="#222" stroke-width="0.8" stroke-linejoin="miter"/>
<circle cx="289.2" cy="147.8" r="5.1" fill="#7097c9" stroke="#222" stroke-width="0.85"/>
<polygon points="271.50,160.80 273.03,164.00 276.54,164.46 273.97,166.90 274.62,170.39 271.50,168.70 268.38,170.39 269.03,166.90 266.46,164.46 269.97,164.00" fill="#7097c9" stroke="#222" stroke-width="0.8" stroke-linejoin="miter"/>
<circle cx="280.4" cy="169.7" r="5.1" fill="#d3b863" stroke="#222" stroke-width="0.85"/>
<polygon points="292.60,165.00 294.13,168.20 297.64,168.66 295.07,171.10 295.72,174.59 292.60,172.90 289.48,174.59 290.13,171.10 287.56,168.66 291.07,168.20" fill="#d3b863" stroke="#222" stroke-width="0.8" stroke-linejoin="miter"/>
<polygon points="298.30,164.40 299.83,167.60 303.34,168.06 300.77,170.50 301.42,173.99 298.30,172.30 295.18,173.99 295.83,170.50 293.26,168.06 296.77,167.60" fill="#d3b863" stroke="#222" stroke-width="0.8" stroke-linejoin="miter"/>
<circle cx="191.8" cy="177.1" r="5.1" fill="#d3b863" stroke="#222" stroke-width="0.85"/>
<circle cx="199.2" cy="179.7" r="5.1" fill="#d3b863" stroke="#222" stroke-width="0.85"/>
<polygon points="209.70,172.20 211.23,175.40 214.74,175.86 212.17,178.30 212.82,181.79 209.70,180.10 206.58,181.79 207.23,178.30 204.66,175.86 208.17,175.40" fill="#d3b863" stroke="#222" stroke-width="0.8" stroke-linejoin="miter"/>
<polygon points="229.60,169.50 231.13,172.70 234.64,173.16 232.07,175.60 232.72,179.09 229.60,177.40 226.48,179.09 227.13,175.60 224.56,173.16 228.07,172.70" fill="#d3b863" stroke="#222" stroke-width="0.8" stroke-linejoin="miter"/>
<circle cx="222.9" cy="184.5" r="5.1" fill="#d3b863" stroke="#222" stroke-width="0.85"/>
<circle cx="267.3" cy="177.1" r="5.1" fill="#d3b863" stroke="#222" stroke-width="0.85"/>
<circle cx="244.8" cy="184.3" r="5.1" fill="#d3b863" stroke="#222" stroke-width="0.85"/>
<circle cx="249.3" cy="188.2" r="5.1" fill="#7097c9" stroke="#222" stroke-width="0.85"/>
<polygon points="258.70,182.90 260.23,186.10 263.74,186.56 261.17,189.00 261.82,192.49 258.70,190.80 255.58,192.49 256.23,189.00 253.66,186.56 257.17,186.10" fill="#7097c9" stroke="#222" stroke-width="0.8" stroke-linejoin="miter"/>
<polygon points="267.50,182.90 269.03,186.10 272.54,186.56 269.97,189.00 270.62,192.49 267.50,190.80 264.38,192.49 265.03,189.00 262.46,186.56 265.97,186.10" fill="#d3b863" stroke="#222" stroke-width="0.8" stroke-linejoin="miter"/>
<circle cx="276.1" cy="187.9" r="5.1" fill="#d3b863" stroke="#222" stroke-width="0.85"/>
<polygon points="275.70,186.60 277.23,189.80 280.74,190.26 278.17,192.70 278.82,196.19 275.70,194.50 272.58,196.19 273.23,192.70 270.66,190.26 274.17,189.80" fill="#d3b863" stroke="#222" stroke-width="0.8" stroke-linejoin="miter"/>
<polygon points="269.80,188.50 271.33,191.70 274.84,192.16 272.27,194.60 272.92,198.09 269.80,196.40 266.68,198.09 267.33,194.60 264.76,192.16 268.27,191.70" fill="#d3b863" stroke="#222" stroke-width="0.8" stroke-linejoin="miter"/>
<polygon points="271.50,194.20 273.03,197.40 276.54,197.86 273.97,200.30 274.62,203.79 271.50,202.10 268.38,203.79 269.03,200.30 266.46,197.86 269.97,197.40" fill="#d3b863" stroke="#222" stroke-width="0.8" stroke-linejoin="miter"/>
<polygon points="156.90,190.00 158.43,193.20 161.94,193.66 159.37,196.10 160.02,199.59 156.90,197.90 153.78,199.59 154.43,196.10 151.86,193.66 155.37,193.20" fill="#7097c9" stroke="#222" stroke-width="0.8" stroke-linejoin="miter"/>
<polygon points="183.00,204.80 184.53,208.00 188.04,208.46 185.47,210.90 186.12,214.39 183.00,212.70 179.88,214.39 180.53,210.90 177.96,208.46 181.47,208.00" fill="#d3b863" stroke="#222" stroke-width="0.8" stroke-linejoin="miter"/>
<polygon points="214.20,201.10 215.73,204.30 219.24,204.76 216.67,207.20 217.32,210.69 214.20,209.00 211.08,210.69 211.73,207.20 209.16,204.76 212.67,204.30" fill="#7097c9" stroke="#222" stroke-width="0.8" stroke-linejoin="miter"/>
<circle cx="258.4" cy="202.7" r="5.1" fill="#d3b863" stroke="#222" stroke-width="0.85"/>
<polygon points="259.00,205.40 260.53,208.60 264.04,209.06 261.47,211.50 262.12,214.99 259.00,213.30 255.88,214.99 256.53,211.50 253.96,209.06 257.47,208.60" fill="#d3b863" stroke="#222" stroke-width="0.8" stroke-linejoin="miter"/>
<circle cx="268.4" cy="213.8" r="5.1" fill="#d3b863" stroke="#222" stroke-width="0.85"/>
<polygon points="263.00,216.20 264.53,219.40 268.04,219.86 265.47,222.30 266.12,225.79 263.00,224.10 259.88,225.79 260.53,222.30 257.96,219.86 261.47,219.40" fill="#d3b863" stroke="#222" stroke-width="0.8" stroke-linejoin="miter"/>
<circle cx="205.2" cy="221.2" r="5.1" fill="#d3b863" stroke="#222" stroke-width="0.85"/>
<polygon points="195.80,219.60 197.33,222.80 200.84,223.26 198.27,225.70 198.92,229.19 195.80,227.50 192.68,229.19 193.33,225.70 190.76,223.26 194.27,222.80" fill="#d3b863" stroke="#222" stroke-width="0.8" stroke-linejoin="miter"/>
<circle cx="232.0" cy="220.6" r="5.1" fill="#c55a5a" stroke="#222" stroke-width="0.85"/>
<circle cx="240.5" cy="231.5" r="5.1" fill="#c55a5a" stroke="#222" stroke-width="0.85"/>
<circle cx="248.5" cy="228.9" r="5.1" fill="#d3b863" stroke="#222" stroke-width="0.85"/>
<circle cx="200.7" cy="239.4" r="5.1" fill="#d3b863" stroke="#222" stroke-width="0.85"/>
<polygon points="233.10,234.10 234.63,237.30 238.14,237.76 235.57,240.20 236.22,243.69 233.10,242.00 229.98,243.69 230.63,240.20 228.06,237.76 231.57,237.30" fill="#d3b863" stroke="#222" stroke-width="0.8" stroke-linejoin="miter"/>
<circle cx="227.1" cy="239.4" r="5.1" fill="#7097c9" stroke="#222" stroke-width="0.85"/>
<circle cx="240.2" cy="246.9" r="5.1" fill="#7097c9" stroke="#222" stroke-width="0.85"/>
<circle cx="298.3" cy="221.0" r="5.1" fill="#d3b863" stroke="#222" stroke-width="0.85"/>
<polygon points="296.60,214.50 298.13,217.70 301.64,218.16 299.07,220.60 299.72,224.09 296.60,222.40 293.48,224.09 294.13,220.60 291.56,218.16 295.07,217.70" fill="#d3b863" stroke="#222" stroke-width="0.8" stroke-linejoin="miter"/>
<circle cx="293.2" cy="228.4" r="5.1" fill="#d3b863" stroke="#222" stroke-width="0.85"/>
<circle cx="287.8" cy="239.2" r="5.1" fill="#d3b863" stroke="#222" stroke-width="0.85"/>
<circle cx="293.7" cy="238.6" r="5.1" fill="#d3b863" stroke="#222" stroke-width="0.85"/>
<polygon points="294.30,237.90 295.83,241.10 299.34,241.56 296.77,244.00 297.42,247.49 294.30,245.80 291.18,247.49 291.83,244.00 289.26,241.56 292.77,241.10" fill="#7097c9" stroke="#222" stroke-width="0.8" stroke-linejoin="miter"/>
<circle cx="191.2" cy="249.4" r="5.1" fill="#d3b863" stroke="#222" stroke-width="0.85"/>
<polygon points="355.50,109.50 357.03,112.70 360.54,113.16 357.97,115.60 358.62,119.09 355.50,117.40 352.38,119.09 353.03,115.60 350.46,113.16 353.97,112.70" fill="#7097c9" stroke="#222" stroke-width="0.8" stroke-linejoin="miter"/>
<circle cx="364.2" cy="133.3" r="5.1" fill="#d3b863" stroke="#222" stroke-width="0.85"/>
<polygon points="408.40,131.40 409.93,134.60 413.44,135.06 410.87,137.50 411.52,140.99 408.40,139.30 405.28,140.99 405.93,137.50 403.36,135.06 406.87,134.60" fill="#7097c9" stroke="#222" stroke-width="0.8" stroke-linejoin="miter"/>
<polygon points="413.00,139.10 414.53,142.30 418.04,142.76 415.47,145.20 416.12,148.69 413.00,147.00 409.88,148.69 410.53,145.20 407.96,142.76 411.47,142.30" fill="#7097c9" stroke="#222" stroke-width="0.8" stroke-linejoin="miter"/>
<polygon points="311.40,131.60 312.93,134.80 316.44,135.26 313.87,137.70 314.52,141.19 311.40,139.50 308.28,141.19 308.93,137.70 306.36,135.26 309.87,134.80" fill="#7097c9" stroke="#222" stroke-width="0.8" stroke-linejoin="miter"/>
<circle cx="319.9" cy="151.5" r="5.1" fill="#7097c9" stroke="#222" stroke-width="0.85"/>
<circle cx="324.5" cy="159.1" r="5.1" fill="#d3b863" stroke="#222" stroke-width="0.85"/>
<polygon points="368.60,157.00 370.13,160.20 373.64,160.66 371.07,163.10 371.72,166.59 368.60,164.90 365.48,166.59 366.13,163.10 363.56,160.66 367.07,160.20" fill="#7097c9" stroke="#222" stroke-width="0.8" stroke-linejoin="miter"/>
<circle cx="372.9" cy="169.7" r="5.1" fill="#7097c9" stroke="#222" stroke-width="0.85"/>
<circle cx="377.5" cy="180.9" r="5.1" fill="#7097c9" stroke="#222" stroke-width="0.85"/>
<polygon points="307.10,171.80 308.63,175.00 312.14,175.46 309.57,177.90 310.22,181.39 307.10,179.70 303.98,181.39 304.63,177.90 302.06,175.46 305.57,175.00" fill="#7097c9" stroke="#222" stroke-width="0.8" stroke-linejoin="miter"/>
<polygon points="325.00,166.50 326.53,169.70 330.04,170.16 327.47,172.60 328.12,176.09 325.00,174.40 321.88,176.09 322.53,172.60 319.96,170.16 323.47,169.70" fill="#d3b863" stroke="#222" stroke-width="0.8" stroke-linejoin="miter"/>
<circle cx="350.9" cy="199.3" r="5.1" fill="#7097c9" stroke="#222" stroke-width="0.85"/>
<polygon points="364.60,193.40 366.13,196.60 369.64,197.06 367.07,199.50 367.72,202.99 364.60,201.30 361.48,202.99 362.13,199.50 359.56,197.06 363.07,196.60" fill="#7097c9" stroke="#222" stroke-width="0.8" stroke-linejoin="miter"/>
<polygon points="377.70,204.80 379.23,208.00 382.74,208.46 380.17,210.90 380.82,214.39 377.70,212.70 374.58,214.39 375.23,210.90 372.66,208.46 376.17,208.00" fill="#7097c9" stroke="#222" stroke-width="0.8" stroke-linejoin="miter"/>
<circle cx="412.6" cy="210.1" r="5.1" fill="#7097c9" stroke="#222" stroke-width="0.85"/>
<polygon points="320.20,212.20 321.73,215.40 325.24,215.86 322.67,218.30 323.32,221.79 320.20,220.10 317.08,221.79 317.73,218.30 315.16,215.86 318.67,215.40" fill="#7097c9" stroke="#222" stroke-width="0.8" stroke-linejoin="miter"/>
<circle cx="359.7" cy="228.4" r="5.1" fill="#7097c9" stroke="#222" stroke-width="0.85"/>
<circle cx="311.3" cy="235.8" r="5.1" fill="#7097c9" stroke="#222" stroke-width="0.85"/>
<circle cx="324.5" cy="243.2" r="5.1" fill="#7097c9" stroke="#222" stroke-width="0.85"/>
<circle cx="342.2" cy="239.5" r="5.1" fill="#7097c9" stroke="#222" stroke-width="0.85"/>
<polygon points="412.80,230.50 414.33,233.70 417.84,234.16 415.27,236.60 415.92,240.09 412.80,238.40 409.68,240.09 410.33,236.60 407.76,234.16 411.27,233.70" fill="#7097c9" stroke="#222" stroke-width="0.8" stroke-linejoin="miter"/>
<circle cx="202.1" cy="259.6" r="5.1" fill="#c55a5a" stroke="#222" stroke-width="0.85"/>
<circle cx="191.8" cy="254.2" r="5.1" fill="#7097c9" stroke="#222" stroke-width="0.85"/>
<polygon points="202.60,246.10 204.13,249.30 207.64,249.76 205.07,252.20 205.72,255.69 202.60,254.00 199.48,255.69 200.13,252.20 197.56,249.76 201.07,249.30" fill="#d3b863" stroke="#222" stroke-width="0.8" stroke-linejoin="miter"/>
<polygon points="210.60,245.20 212.13,248.40 215.64,248.86 213.07,251.30 213.72,254.79 210.60,253.10 207.48,254.79 208.13,251.30 205.56,248.86 209.07,248.40" fill="#b0412a" stroke="#222" stroke-width="0.8" stroke-linejoin="miter"/>
<circle cx="196.4" cy="261.4" r="5.1" fill="#7097c9" stroke="#222" stroke-width="0.85"/>
<circle cx="204.9" cy="265.3" r="5.1" fill="#d3b863" stroke="#222" stroke-width="0.85"/>
<circle cx="211.2" cy="265.3" r="5.1" fill="#d3b863" stroke="#222" stroke-width="0.85"/>
<polygon points="218.60,252.30 220.13,255.50 223.64,255.96 221.07,258.40 221.72,261.89 218.60,260.20 215.48,261.89 216.13,258.40 213.56,255.96 217.07,255.50" fill="#d3b863" stroke="#222" stroke-width="0.8" stroke-linejoin="miter"/>
<circle cx="227.5" cy="261.1" r="5.1" fill="#7097c9" stroke="#222" stroke-width="0.85"/>
<polygon points="222.00,260.90 223.53,264.10 227.04,264.56 224.47,267.00 225.12,270.49 222.00,268.80 218.88,270.49 219.53,267.00 216.96,264.56 220.47,264.10" fill="#d3b863" stroke="#222" stroke-width="0.8" stroke-linejoin="miter"/>
<polygon points="244.20,248.90 245.73,252.10 249.24,252.56 246.67,255.00 247.32,258.49 244.20,256.80 241.08,258.49 241.73,255.00 239.16,252.56 242.67,252.10" fill="#d3b863" stroke="#222" stroke-width="0.8" stroke-linejoin="miter"/>
<circle cx="249.9" cy="258.0" r="5.1" fill="#d3b863" stroke="#222" stroke-width="0.85"/>
<polygon points="253.60,260.30 255.13,263.50 258.64,263.96 256.07,266.40 256.72,269.89 253.60,268.20 250.48,269.89 251.13,266.40 248.56,263.96 252.07,263.50" fill="#d3b863" stroke="#222" stroke-width="0.8" stroke-linejoin="miter"/>
<circle cx="242.5" cy="268.5" r="5.1" fill="#d3b863" stroke="#222" stroke-width="0.85"/>
<polygon points="243.80,265.70 245.33,268.90 248.84,269.36 246.27,271.80 246.92,275.29 243.80,273.60 240.68,275.29 241.33,271.80 238.76,269.36 242.27,268.90" fill="#d3b863" stroke="#222" stroke-width="0.8" stroke-linejoin="miter"/>
<circle cx="266.6" cy="252.5" r="5.1" fill="#d3b863" stroke="#222" stroke-width="0.85"/>
<polygon points="276.10,248.90 277.63,252.10 281.14,252.56 278.57,255.00 279.22,258.49 276.10,256.80 272.98,258.49 273.63,255.00 271.06,252.56 274.57,252.10" fill="#d3b863" stroke="#222" stroke-width="0.8" stroke-linejoin="miter"/>
<circle cx="233.9" cy="276.2" r="5.1" fill="#d3b863" stroke="#222" stroke-width="0.85"/>
<circle cx="255.9" cy="281.6" r="5.1" fill="#d3b863" stroke="#222" stroke-width="0.85"/>
<polygon points="262.80,282.00 264.33,285.20 267.84,285.66 265.27,288.10 265.92,291.59 262.80,289.90 259.68,291.59 260.33,288.10 257.76,285.66 261.27,285.20" fill="#d3b863" stroke="#222" stroke-width="0.8" stroke-linejoin="miter"/>
<circle cx="236.2" cy="287.3" r="5.1" fill="#d3b863" stroke="#222" stroke-width="0.85"/>
<polygon points="269.20,267.20 270.73,270.40 274.24,270.86 271.67,273.30 272.32,276.79 269.20,275.10 266.08,276.79 266.73,273.30 264.16,270.86 267.67,270.40" fill="#d3b863" stroke="#222" stroke-width="0.8" stroke-linejoin="miter"/>
<circle cx="275.7" cy="271.9" r="5.1" fill="#d3b863" stroke="#222" stroke-width="0.85"/>
<polygon points="276.60,268.90 278.13,272.10 281.64,272.56 279.07,275.00 279.72,278.49 276.60,276.80 273.48,278.49 274.13,275.00 271.56,272.56 275.07,272.10" fill="#d3b863" stroke="#222" stroke-width="0.8" stroke-linejoin="miter"/>
<circle cx="280.6" cy="276.2" r="5.1" fill="#d3b863" stroke="#222" stroke-width="0.85"/>
<polygon points="279.50,272.30 281.03,275.50 284.54,275.96 281.97,278.40 282.62,281.89 279.50,280.20 276.38,281.89 277.03,278.40 274.46,275.96 277.97,275.50" fill="#d3b863" stroke="#222" stroke-width="0.8" stroke-linejoin="miter"/>
<polygon points="161.10,274.60 162.63,277.80 166.14,278.26 163.57,280.70 164.22,284.19 161.10,282.50 157.98,284.19 158.63,280.70 156.06,278.26 159.57,277.80" fill="#d3b863" stroke="#222" stroke-width="0.8" stroke-linejoin="miter"/>
<circle cx="178.7" cy="279.9" r="5.1" fill="#d3b863" stroke="#222" stroke-width="0.85"/>
<circle cx="187.8" cy="279.9" r="5.1" fill="#d3b863" stroke="#222" stroke-width="0.85"/>
<polygon points="200.40,278.20 201.93,281.40 205.44,281.86 202.87,284.30 203.52,287.79 200.40,286.10 197.28,287.79 197.93,284.30 195.36,281.86 198.87,281.40" fill="#d3b863" stroke="#222" stroke-width="0.8" stroke-linejoin="miter"/>
<circle cx="209.7" cy="279.9" r="5.1" fill="#d3b863" stroke="#222" stroke-width="0.85"/>
<circle cx="208.3" cy="298.3" r="5.1" fill="#d3b863" stroke="#222" stroke-width="0.85"/>
<circle cx="165.6" cy="312.3" r="5.1" fill="#c55a5a" stroke="#222" stroke-width="0.85"/>
<circle cx="208.9" cy="319.7" r="5.1" fill="#c55a5a" stroke="#222" stroke-width="0.85"/>
<circle cx="214.6" cy="319.7" r="5.1" fill="#c55a5a" stroke="#222" stroke-width="0.85"/>
<polygon points="214.20,310.80 215.73,314.00 219.24,314.46 216.67,316.90 217.32,320.39 214.20,318.70 211.08,320.39 211.73,316.90 209.16,314.46 212.67,314.00" fill="#d3b863" stroke="#222" stroke-width="0.8" stroke-linejoin="miter"/>
<circle cx="236.2" cy="319.7" r="5.1" fill="#c55a5a" stroke="#222" stroke-width="0.85"/>
<polygon points="240.40,318.70 241.93,321.90 245.44,322.36 242.87,324.80 243.52,328.29 240.40,326.60 237.28,328.29 237.93,324.80 235.36,322.36 238.87,321.90" fill="#d3b863" stroke="#222" stroke-width="0.8" stroke-linejoin="miter"/>
<circle cx="262.6" cy="319.5" r="5.1" fill="#c55a5a" stroke="#222" stroke-width="0.85"/>
<circle cx="280.6" cy="330.5" r="5.1" fill="#c55a5a" stroke="#222" stroke-width="0.85"/>
<polygon points="187.60,325.80 189.13,329.00 192.64,329.46 190.07,331.90 190.72,335.39 187.60,333.70 184.48,335.39 185.13,331.90 182.56,329.46 186.07,329.00" fill="#d3b863" stroke="#222" stroke-width="0.8" stroke-linejoin="miter"/>
<circle cx="215.7" cy="331.1" r="5.1" fill="#d3b863" stroke="#222" stroke-width="0.85"/>
<circle cx="232.0" cy="337.9" r="5.1" fill="#c55a5a" stroke="#222" stroke-width="0.85"/>
<circle cx="240.8" cy="334.5" r="5.1" fill="#7097c9" stroke="#222" stroke-width="0.85"/>
<circle cx="196.7" cy="341.3" r="5.1" fill="#c55a5a" stroke="#222" stroke-width="0.85"/>
<circle cx="222.9" cy="345.7" r="5.1" fill="#d3b863" stroke="#222" stroke-width="0.85"/>
<circle cx="178.7" cy="356.1" r="5.1" fill="#c55a5a" stroke="#222" stroke-width="0.85"/>
<circle cx="184.6" cy="360.1" r="5.1" fill="#d3b863" stroke="#222" stroke-width="0.85"/>
<circle cx="192.2" cy="363.5" r="5.1" fill="#c55a5a" stroke="#222" stroke-width="0.85"/>
<circle cx="201.3" cy="363.5" r="5.1" fill="#c55a5a" stroke="#222" stroke-width="0.85"/>
<polygon points="210.40,351.80 211.93,355.00 215.44,355.46 212.87,357.90 213.52,361.39 210.40,359.70 207.28,361.39 207.93,357.90 205.36,355.46 208.87,355.00" fill="#d3b863" stroke="#222" stroke-width="0.8" stroke-linejoin="miter"/>
<circle cx="218.6" cy="363.5" r="5.1" fill="#c55a5a" stroke="#222" stroke-width="0.85"/>
<circle cx="236.6" cy="366.4" r="5.1" fill="#d3b863" stroke="#222" stroke-width="0.85"/>
<circle cx="183.3" cy="378.4" r="5.1" fill="#c55a5a" stroke="#222" stroke-width="0.85"/>
<circle cx="227.7" cy="382.1" r="5.1" fill="#c55a5a" stroke="#222" stroke-width="0.85"/>
<circle cx="222.9" cy="378.7" r="5.1" fill="#d3b863" stroke="#222" stroke-width="0.85"/>
<circle cx="209.7" cy="386.0" r="5.1" fill="#d3b863" stroke="#222" stroke-width="0.85"/>
<circle cx="306.9" cy="268.5" r="5.1" fill="#c55a5a" stroke="#222" stroke-width="0.85"/>
<circle cx="342.2" cy="268.7" r="5.1" fill="#d3b863" stroke="#222" stroke-width="0.85"/>
<circle cx="381.7" cy="268.7" r="5.1" fill="#7097c9" stroke="#222" stroke-width="0.85"/>
<circle cx="205.5" cy="400.2" r="5.1" fill="#c55a5a" stroke="#222" stroke-width="0.85"/>
<polygon points="227.10,395.20 228.63,398.40 232.14,398.86 229.57,401.30 230.22,404.79 227.10,403.10 223.98,404.79 224.63,401.30 222.06,398.86 225.57,398.40" fill="#b0412a" stroke="#222" stroke-width="0.8" stroke-linejoin="miter"/>
<circle cx="236.6" cy="400.2" r="5.1" fill="#c55a5a" stroke="#222" stroke-width="0.85"/>
<circle cx="190.3" cy="412.2" r="5.1" fill="#d3b863" stroke="#222" stroke-width="0.85"/>
<circle cx="174.5" cy="422.2" r="5.1" fill="#c55a5a" stroke="#222" stroke-width="0.85"/>
<circle cx="192.2" cy="433.0" r="5.1" fill="#c55a5a" stroke="#222" stroke-width="0.85"/>
<circle cx="174.5" cy="436.7" r="5.1" fill="#c55a5a" stroke="#222" stroke-width="0.85"/>
<circle cx="192.2" cy="436.7" r="5.1" fill="#c55a5a" stroke="#222" stroke-width="0.85"/>
<circle cx="201.1" cy="444.1" r="5.1" fill="#c55a5a" stroke="#222" stroke-width="0.85"/>
<circle cx="214.2" cy="440.1" r="5.1" fill="#c55a5a" stroke="#222" stroke-width="0.85"/>
<circle cx="223.1" cy="447.8" r="5.1" fill="#c55a5a" stroke="#222" stroke-width="0.85"/>
<polygon points="189.00,446.20 190.53,449.40 194.04,449.86 191.47,452.30 192.12,455.79 189.00,454.10 185.88,455.79 186.53,452.30 183.96,449.86 187.47,449.40" fill="#d3b863" stroke="#222" stroke-width="0.8" stroke-linejoin="miter"/>
<circle cx="209.7" cy="455.1" r="5.1" fill="#c55a5a" stroke="#222" stroke-width="0.85"/>
<circle cx="174.5" cy="473.4" r="5.1" fill="#c55a5a" stroke="#222" stroke-width="0.85"/>
<polygon points="205.10,479.60 206.63,482.80 210.14,483.26 207.57,485.70 208.22,489.19 205.10,487.50 201.98,489.19 202.63,485.70 200.06,483.26 203.57,482.80" fill="#d3b863" stroke="#222" stroke-width="0.8" stroke-linejoin="miter"/>
<circle cx="162.8" cy="492.5" r="5.1" fill="#d3b863" stroke="#222" stroke-width="0.85"/>
<circle cx="178.9" cy="499.1" r="5.1" fill="#c55a5a" stroke="#222" stroke-width="0.85"/>
<circle cx="161.3" cy="554.3" r="5.1" fill="#7097c9" stroke="#222" stroke-width="0.85"/>
<circle cx="258.4" cy="550.3" r="5.1" fill="#c55a5a" stroke="#222" stroke-width="0.85"/>
<circle cx="531.7" cy="166.3" r="5.1" fill="#7097c9" stroke="#222" stroke-width="0.85"/>
<circle cx="222.2" cy="585.4" r="5.5" fill="#231f20"/>
<circle cx="250.8" cy="599.1" r="5.5" fill="#231f20"/>
<circle cx="165.5" cy="620.3" r="5.1" fill="#d3b863" stroke="#222" stroke-width="0.85"/>
<circle cx="250.8" cy="644.3" r="5.5" fill="#231f20"/>
<circle cx="243.1" cy="659.3" r="5.5" fill="#231f20"/>
<circle cx="235.0" cy="663.3" r="5.5" fill="#231f20"/>
<circle cx="239.3" cy="664.1" r="5.5" fill="#231f20"/>
<circle cx="205.4" cy="666.5" r="5.5" fill="#231f20"/>
<circle cx="255.2" cy="671.4" r="5.5" fill="#231f20"/>
<polygon points="94.90,113.50 96.43,116.70 99.94,117.16 97.37,119.60 98.02,123.09 94.90,121.40 91.78,123.09 92.43,119.60 89.86,117.16 93.37,116.70" fill="#d3b863" stroke="#222" stroke-width="0.8" stroke-linejoin="miter"/>
<polygon points="134.50,197.80 136.03,201.00 139.54,201.46 136.97,203.90 137.62,207.39 134.50,205.70 131.38,207.39 132.03,203.90 129.46,201.46 132.97,201.00" fill="#d3b863" stroke="#222" stroke-width="0.8" stroke-linejoin="miter"/>
<polygon points="28.80,256.20 30.33,259.40 33.84,259.86 31.27,262.30 31.92,265.79 28.80,264.10 25.68,265.79 26.33,262.30 23.76,259.86 27.27,259.40" fill="#d3b863" stroke="#222" stroke-width="0.8" stroke-linejoin="miter"/>
<polygon points="32.80,267.60 34.33,270.80 37.84,271.26 35.27,273.70 35.92,277.19 32.80,275.50 29.68,277.19 30.33,273.70 27.76,271.26 31.27,270.80" fill="#d3b863" stroke="#222" stroke-width="0.8" stroke-linejoin="miter"/>
<circle cx="94.9" cy="268.9" r="5.1" fill="#d3b863" stroke="#222" stroke-width="0.85"/>
<polygon points="72.90,307.20 74.43,310.40 77.94,310.86 75.37,313.30 76.02,316.79 72.90,315.10 69.78,316.79 70.43,313.30 67.86,310.86 71.37,310.40" fill="#d3b863" stroke="#222" stroke-width="0.8" stroke-linejoin="miter"/>
<polygon points="134.50,391.90 136.03,395.10 139.54,395.56 136.97,398.00 137.62,401.49 134.50,399.80 131.38,401.49 132.03,398.00 129.46,395.56 132.97,395.10" fill="#d3b863" stroke="#222" stroke-width="0.8" stroke-linejoin="miter"/>
<polygon points="817.50,118.70 819.03,121.90 822.54,122.36 819.97,124.80 820.62,128.29 817.50,126.60 814.38,128.29 815.03,124.80 812.46,122.36 815.97,121.90" fill="#d3b863" stroke="#222" stroke-width="0.8" stroke-linejoin="miter"/>
<polygon points="845.40,115.10 846.93,118.30 850.44,118.76 847.87,121.20 848.52,124.69 845.40,123.00 842.28,124.69 842.93,121.20 840.36,118.76 843.87,118.30" fill="#7097c9" stroke="#222" stroke-width="0.8" stroke-linejoin="miter"/>
<circle cx="823.4" cy="138.7" r="5.1" fill="#d3b863" stroke="#222" stroke-width="0.85"/>
<polygon points="819.30,137.00 820.83,140.20 824.34,140.66 821.77,143.10 822.42,146.59 819.30,144.90 816.18,146.59 816.83,143.10 814.26,140.66 817.77,140.20" fill="#7097c9" stroke="#222" stroke-width="0.8" stroke-linejoin="miter"/>
<polygon points="821.30,144.70 822.83,147.90 826.34,148.36 823.77,150.80 824.42,154.29 821.30,152.60 818.18,154.29 818.83,150.80 816.26,148.36 819.77,147.90" fill="#7097c9" stroke="#222" stroke-width="0.8" stroke-linejoin="miter"/>
<polygon points="883.10,137.00 884.63,140.20 888.14,140.66 885.57,143.10 886.22,146.59 883.10,144.90 879.98,146.59 880.63,143.10 878.06,140.66 881.57,140.20" fill="#7097c9" stroke="#222" stroke-width="0.8" stroke-linejoin="miter"/>
<circle cx="886.2" cy="153.3" r="5.1" fill="#7097c9" stroke="#222" stroke-width="0.85"/>
<circle cx="876.1" cy="157.0" r="5.1" fill="#7097c9" stroke="#222" stroke-width="0.85"/>
<circle cx="836.5" cy="164.3" r="5.1" fill="#d3b863" stroke="#222" stroke-width="0.85"/>
<polygon points="849.60,162.70 851.13,165.90 854.64,166.36 852.07,168.80 852.72,172.29 849.60,170.60 846.48,172.29 847.13,168.80 844.56,166.36 848.07,165.90" fill="#7097c9" stroke="#222" stroke-width="0.8" stroke-linejoin="miter"/>
<circle cx="856.2" cy="175.3" r="5.1" fill="#7097c9" stroke="#222" stroke-width="0.85"/>
<circle cx="856.4" cy="171.1" r="5.1" fill="#7097c9" stroke="#222" stroke-width="0.85"/>
<circle cx="826.6" cy="174.8" r="5.1" fill="#d3b863" stroke="#222" stroke-width="0.85"/>
<polygon points="824.00,171.60 825.53,174.80 829.04,175.26 826.47,177.70 827.12,181.19 824.00,179.50 820.88,181.19 821.53,177.70 818.96,175.26 822.47,174.80" fill="#d3b863" stroke="#222" stroke-width="0.8" stroke-linejoin="miter"/>
<polygon points="831.30,170.00 832.83,173.20 836.34,173.66 833.77,176.10 834.42,179.59 831.30,177.90 828.18,179.59 828.83,176.10 826.26,173.66 829.77,173.20" fill="#d3b863" stroke="#222" stroke-width="0.8" stroke-linejoin="miter"/>
<polygon points="826.10,175.80 827.63,179.00 831.14,179.46 828.57,181.90 829.22,185.39 826.10,183.70 822.98,185.39 823.63,181.90 821.06,179.46 824.57,179.00" fill="#d3b863" stroke="#222" stroke-width="0.8" stroke-linejoin="miter"/>
<circle cx="841.2" cy="182.1" r="5.1" fill="#d3b863" stroke="#222" stroke-width="0.85"/>
<circle cx="837.6" cy="186.3" r="5.1" fill="#7097c9" stroke="#222" stroke-width="0.85"/>
<polygon points="872.60,177.30 874.13,180.50 877.64,180.96 875.07,183.40 875.72,186.89 872.60,185.20 869.48,186.89 870.13,183.40 867.56,180.96 871.07,180.50" fill="#d3b863" stroke="#222" stroke-width="0.8" stroke-linejoin="miter"/>
<circle cx="887.0" cy="190.0" r="5.1" fill="#d3b863" stroke="#222" stroke-width="0.85"/>
<circle cx="872.6" cy="193.6" r="5.1" fill="#d3b863" stroke="#222" stroke-width="0.85"/>
<polygon points="847.00,187.30 848.53,190.50 852.04,190.96 849.47,193.40 850.12,196.89 847.00,195.20 843.88,196.89 844.53,193.40 841.96,190.96 845.47,190.50" fill="#d3b863" stroke="#222" stroke-width="0.8" stroke-linejoin="miter"/>
<polygon points="847.80,193.60 849.33,196.80 852.84,197.26 850.27,199.70 850.92,203.19 847.80,201.50 844.68,203.19 845.33,199.70 842.76,197.26 846.27,196.80" fill="#d3b863" stroke="#222" stroke-width="0.8" stroke-linejoin="miter"/>
<polygon points="831.80,191.50 833.33,194.70 836.84,195.16 834.27,197.60 834.92,201.09 831.80,199.40 828.68,201.09 829.33,197.60 826.76,195.16 830.27,194.70" fill="#d3b863" stroke="#222" stroke-width="0.8" stroke-linejoin="miter"/>
<polygon points="832.90,199.30 834.43,202.50 837.94,202.96 835.37,205.40 836.02,208.89 832.90,207.20 829.78,208.89 830.43,205.40 827.86,202.96 831.37,202.50" fill="#d3b863" stroke="#222" stroke-width="0.8" stroke-linejoin="miter"/>
<polygon points="826.60,203.00 828.13,206.20 831.64,206.66 829.07,209.10 829.72,212.59 826.60,210.90 823.48,212.59 824.13,209.10 821.56,206.66 825.07,206.20" fill="#d3b863" stroke="#222" stroke-width="0.8" stroke-linejoin="miter"/>
<circle cx="850.3" cy="209.3" r="5.1" fill="#d3b863" stroke="#222" stroke-width="0.85"/>
<polygon points="846.50,199.30 848.03,202.50 851.54,202.96 848.97,205.40 849.62,208.89 846.50,207.20 843.38,208.89 844.03,205.40 841.46,202.96 844.97,202.50" fill="#7097c9" stroke="#222" stroke-width="0.8" stroke-linejoin="miter"/>
<circle cx="855.2" cy="204.6" r="5.1" fill="#7097c9" stroke="#222" stroke-width="0.85"/>
<polygon points="870.00,210.80 871.53,214.00 875.04,214.46 872.47,216.90 873.12,220.39 870.00,218.70 866.88,220.39 867.53,216.90 864.96,214.46 868.47,214.00" fill="#d3b863" stroke="#222" stroke-width="0.8" stroke-linejoin="miter"/>
<polygon points="874.20,217.60 875.73,220.80 879.24,221.26 876.67,223.70 877.32,227.19 874.20,225.50 871.08,227.19 871.73,223.70 869.16,221.26 872.67,220.80" fill="#7097c9" stroke="#222" stroke-width="0.8" stroke-linejoin="miter"/>
<circle cx="820.3" cy="219.3" r="5.1" fill="#d3b863" stroke="#222" stroke-width="0.85"/>
<circle cx="823.1" cy="215.6" r="5.1" fill="#7097c9" stroke="#222" stroke-width="0.85"/>
<circle cx="821.7" cy="226.6" r="5.1" fill="#d3b863" stroke="#222" stroke-width="0.85"/>
<circle cx="830.8" cy="224.8" r="5.1" fill="#c55a5a" stroke="#222" stroke-width="0.85"/>
<polygon points="837.40,221.30 838.93,224.50 842.44,224.96 839.87,227.40 840.52,230.89 837.40,229.20 834.28,230.89 834.93,227.40 832.36,224.96 835.87,224.50" fill="#d3b863" stroke="#222" stroke-width="0.8" stroke-linejoin="miter"/>
<polygon points="841.20,221.30 842.73,224.50 846.24,224.96 843.67,227.40 844.32,230.89 841.20,229.20 838.08,230.89 838.73,227.40 836.16,224.96 839.67,224.50" fill="#d3b863" stroke="#222" stroke-width="0.8" stroke-linejoin="miter"/>
<polygon points="845.90,220.20 847.43,223.40 850.94,223.86 848.37,226.30 849.02,229.79 845.90,228.10 842.78,229.79 843.43,226.30 840.86,223.86 844.37,223.40" fill="#d3b863" stroke="#222" stroke-width="0.8" stroke-linejoin="miter"/>
<circle cx="833.2" cy="233.9" r="5.1" fill="#d3b863" stroke="#222" stroke-width="0.85"/>
<circle cx="849.9" cy="234.2" r="5.1" fill="#d3b863" stroke="#222" stroke-width="0.85"/>
<circle cx="876.3" cy="233.9" r="5.1" fill="#7097c9" stroke="#222" stroke-width="0.85"/>
<circle cx="879.4" cy="235.5" r="5.1" fill="#c55a5a" stroke="#222" stroke-width="0.85"/>
<circle cx="866.4" cy="241.2" r="5.1" fill="#7097c9" stroke="#222" stroke-width="0.85"/>
<circle cx="875.0" cy="248.3" r="5.1" fill="#7097c9" stroke="#222" stroke-width="0.85"/>
<circle cx="893.6" cy="244.7" r="5.1" fill="#7097c9" stroke="#222" stroke-width="0.85"/>
<circle cx="822.4" cy="244.9" r="5.1" fill="#d3b863" stroke="#222" stroke-width="0.85"/>
<polygon points="823.40,235.40 824.93,238.60 828.44,239.06 825.87,241.50 826.52,244.99 823.40,243.30 820.28,244.99 820.93,241.50 818.36,239.06 821.87,238.60" fill="#7097c9" stroke="#222" stroke-width="0.8" stroke-linejoin="miter"/>
<polygon points="841.80,239.40 843.33,242.60 846.84,243.06 844.27,245.50 844.92,248.99 841.80,247.30 838.68,248.99 839.33,245.50 836.76,243.06 840.27,242.60" fill="#d3b863" stroke="#222" stroke-width="0.8" stroke-linejoin="miter"/>
<circle cx="853.1" cy="244.4" r="5.1" fill="#d3b863" stroke="#222" stroke-width="0.85"/>
<polygon points="911.50,166.30 913.03,169.50 916.54,169.96 913.97,172.40 914.62,175.89 911.50,174.20 908.38,175.89 909.03,172.40 906.46,169.96 909.97,169.50" fill="#7097c9" stroke="#222" stroke-width="0.8" stroke-linejoin="miter"/>
<circle cx="921.9" cy="182.6" r="5.1" fill="#d3b863" stroke="#222" stroke-width="0.85"/>
<circle cx="921.4" cy="185.2" r="5.1" fill="#d3b863" stroke="#222" stroke-width="0.85"/>
<polygon points="927.70,177.30 929.23,180.50 932.74,180.96 930.17,183.40 930.82,186.89 927.70,185.20 924.58,186.89 925.23,183.40 922.66,180.96 926.17,180.50" fill="#7097c9" stroke="#222" stroke-width="0.8" stroke-linejoin="miter"/>
<polygon points="945.80,188.30 947.33,191.50 950.84,191.96 948.27,194.40 948.92,197.89 945.80,196.20 942.68,197.89 943.33,194.40 940.76,191.96 944.27,191.50" fill="#7097c9" stroke="#222" stroke-width="0.8" stroke-linejoin="miter"/>
<polygon points="998.90,206.60 1000.43,209.80 1003.94,210.26 1001.37,212.70 1002.02,216.19 998.90,214.50 995.78,216.19 996.43,212.70 993.86,210.26 997.37,209.80" fill="#7097c9" stroke="#222" stroke-width="0.8" stroke-linejoin="miter"/>
<polygon points="911.50,210.30 913.03,213.50 916.54,213.96 913.97,216.40 914.62,219.89 911.50,218.20 908.38,219.89 909.03,216.40 906.46,213.96 909.97,213.50" fill="#7097c9" stroke="#222" stroke-width="0.8" stroke-linejoin="miter"/>
<polygon points="926.60,210.30 928.13,213.50 931.64,213.96 929.07,216.40 929.72,219.89 926.60,218.20 923.48,219.89 924.13,216.40 921.56,213.96 925.07,213.50" fill="#d3b863" stroke="#222" stroke-width="0.8" stroke-linejoin="miter"/>
<circle cx="913.6" cy="226.6" r="5.1" fill="#d3b863" stroke="#222" stroke-width="0.85"/>
<polygon points="924.50,225.00 926.03,228.20 929.54,228.66 926.97,231.10 927.62,234.59 924.50,232.90 921.38,234.59 922.03,231.10 919.46,228.66 922.97,228.20" fill="#d3b863" stroke="#222" stroke-width="0.8" stroke-linejoin="miter"/>
<circle cx="987.6" cy="244.7" r="5.1" fill="#d3b863" stroke="#222" stroke-width="0.85"/>
<polygon points="984.40,243.30 985.93,246.50 989.44,246.96 986.87,249.40 987.52,252.89 984.40,251.20 981.28,252.89 981.93,249.40 979.36,246.96 982.87,246.50" fill="#7097c9" stroke="#222" stroke-width="0.8" stroke-linejoin="miter"/>
<circle cx="829.2" cy="257.3" r="5.1" fill="#d3b863" stroke="#222" stroke-width="0.85"/>
<polygon points="832.30,250.40 833.83,253.60 837.34,254.06 834.77,256.50 835.42,259.99 832.30,258.30 829.18,259.99 829.83,256.50 827.26,254.06 830.77,253.60" fill="#d3b863" stroke="#222" stroke-width="0.8" stroke-linejoin="miter"/>
<polygon points="836.50,254.60 838.03,257.80 841.54,258.26 838.97,260.70 839.62,264.19 836.50,262.50 833.38,264.19 834.03,260.70 831.46,258.26 834.97,257.80" fill="#d3b863" stroke="#222" stroke-width="0.8" stroke-linejoin="miter"/>
<circle cx="828.1" cy="263.6" r="5.1" fill="#d3b863" stroke="#222" stroke-width="0.85"/>
<polygon points="844.90,255.60 846.43,258.80 849.94,259.26 847.37,261.70 848.02,265.19 844.90,263.50 841.78,265.19 842.43,261.70 839.86,259.26 843.37,258.80" fill="#d3b863" stroke="#222" stroke-width="0.8" stroke-linejoin="miter"/>
<polygon points="844.10,249.90 845.63,253.10 849.14,253.56 846.57,256.00 847.22,259.49 844.10,257.80 840.98,259.49 841.63,256.00 839.06,253.56 842.57,253.10" fill="#b0412a" stroke="#222" stroke-width="0.8" stroke-linejoin="miter"/>
<circle cx="852.7" cy="264.6" r="5.1" fill="#c55a5a" stroke="#222" stroke-width="0.85"/>
<polygon points="870.20,257.70 871.73,260.90 875.24,261.36 872.67,263.80 873.32,267.29 870.20,265.60 867.08,267.29 867.73,263.80 865.16,261.36 868.67,260.90" fill="#d3b863" stroke="#222" stroke-width="0.8" stroke-linejoin="miter"/>
<circle cx="892.8" cy="255.7" r="5.1" fill="#d3b863" stroke="#222" stroke-width="0.85"/>
<circle cx="895.7" cy="266.7" r="5.1" fill="#7097c9" stroke="#222" stroke-width="0.85"/>
<polygon points="842.30,261.40 843.83,264.60 847.34,265.06 844.77,267.50 845.42,270.99 842.30,269.30 839.18,270.99 839.83,267.50 837.26,265.06 840.77,264.60" fill="#d3b863" stroke="#222" stroke-width="0.8" stroke-linejoin="miter"/>
<circle cx="830.2" cy="274.0" r="5.1" fill="#7097c9" stroke="#222" stroke-width="0.85"/>
<circle cx="837.4" cy="271.9" r="5.1" fill="#c55a5a" stroke="#222" stroke-width="0.85"/>
<polygon points="861.10,261.40 862.63,264.60 866.14,265.06 863.57,267.50 864.22,270.99 861.10,269.30 857.98,270.99 858.63,267.50 856.06,265.06 859.57,264.60" fill="#d3b863" stroke="#222" stroke-width="0.8" stroke-linejoin="miter"/>
<polygon points="856.90,266.10 858.43,269.30 861.94,269.76 859.37,272.20 860.02,275.69 856.90,274.00 853.78,275.69 854.43,272.20 851.86,269.76 855.37,269.30" fill="#d3b863" stroke="#222" stroke-width="0.8" stroke-linejoin="miter"/>
<circle cx="863.7" cy="274.0" r="5.1" fill="#d3b863" stroke="#222" stroke-width="0.85"/>
<polygon points="859.30,270.30 860.83,273.50 864.34,273.96 861.77,276.40 862.42,279.89 859.30,278.20 856.18,279.89 856.83,276.40 854.26,273.96 857.77,273.50" fill="#d3b863" stroke="#222" stroke-width="0.8" stroke-linejoin="miter"/>
<circle cx="856.2" cy="277.7" r="5.1" fill="#d3b863" stroke="#222" stroke-width="0.85"/>
<polygon points="842.80,272.40 844.33,275.60 847.84,276.06 845.27,278.50 845.92,281.99 842.80,280.30 839.68,281.99 840.33,278.50 837.76,276.06 841.27,275.60" fill="#d3b863" stroke="#222" stroke-width="0.8" stroke-linejoin="miter"/>
<circle cx="825.5" cy="281.3" r="5.1" fill="#d3b863" stroke="#222" stroke-width="0.85"/>
<polygon points="830.80,277.60 832.33,280.80 835.84,281.26 833.27,283.70 833.92,287.19 830.80,285.50 827.68,287.19 828.33,283.70 825.76,281.26 829.27,280.80" fill="#d3b863" stroke="#222" stroke-width="0.8" stroke-linejoin="miter"/>
<circle cx="838.1" cy="285.0" r="5.1" fill="#d3b863" stroke="#222" stroke-width="0.85"/>
<circle cx="843.3" cy="285.5" r="5.1" fill="#d3b863" stroke="#222" stroke-width="0.85"/>
<circle cx="830.8" cy="292.3" r="5.1" fill="#d3b863" stroke="#222" stroke-width="0.85"/>
<polygon points="837.00,287.60 838.53,290.80 842.04,291.26 839.47,293.70 840.12,297.19 837.00,295.50 833.88,297.19 834.53,293.70 831.96,291.26 835.47,290.80" fill="#d3b863" stroke="#222" stroke-width="0.8" stroke-linejoin="miter"/>
<polygon points="871.10,279.70 872.63,282.90 876.14,283.36 873.57,285.80 874.22,289.29 871.10,287.60 867.98,289.29 868.63,285.80 866.06,283.36 869.57,282.90" fill="#d3b863" stroke="#222" stroke-width="0.8" stroke-linejoin="miter"/>
<circle cx="858.3" cy="303.3" r="5.1" fill="#d3b863" stroke="#222" stroke-width="0.85"/>
<circle cx="832.9" cy="322.5" r="5.1" fill="#c55a5a" stroke="#222" stroke-width="0.85"/>
<polygon points="865.30,312.70 866.83,315.90 870.34,316.36 867.77,318.80 868.42,322.29 865.30,320.60 862.18,322.29 862.83,318.80 860.26,316.36 863.77,315.90" fill="#d3b863" stroke="#222" stroke-width="0.8" stroke-linejoin="miter"/>
<circle cx="860.4" cy="322.7" r="5.1" fill="#c55a5a" stroke="#222" stroke-width="0.85"/>
<polygon points="842.80,323.70 844.33,326.90 847.84,327.36 845.27,329.80 845.92,333.29 842.80,331.60 839.68,333.29 840.33,329.80 837.76,327.36 841.27,326.90" fill="#d3b863" stroke="#222" stroke-width="0.8" stroke-linejoin="miter"/>
<polygon points="835.50,333.10 837.03,336.30 840.54,336.76 837.97,339.20 838.62,342.69 835.50,341.00 832.38,342.69 833.03,339.20 830.46,336.76 833.97,336.30" fill="#d3b863" stroke="#222" stroke-width="0.8" stroke-linejoin="miter"/>
<circle cx="843.6" cy="336.8" r="5.1" fill="#d3b863" stroke="#222" stroke-width="0.85"/>
<circle cx="836.2" cy="333.7" r="5.1" fill="#c55a5a" stroke="#222" stroke-width="0.85"/>
<circle cx="818.5" cy="340.7" r="5.1" fill="#c55a5a" stroke="#222" stroke-width="0.85"/>
<circle cx="885.9" cy="344.5" r="5.1" fill="#c55a5a" stroke="#222" stroke-width="0.85"/>
<circle cx="844.1" cy="351.2" r="5.1" fill="#d3b863" stroke="#222" stroke-width="0.85"/>
<polygon points="855.60,358.70 857.13,361.90 860.64,362.36 858.07,364.80 858.72,368.29 855.60,366.60 852.48,368.29 853.13,364.80 850.56,362.36 854.07,361.90" fill="#d3b863" stroke="#222" stroke-width="0.8" stroke-linejoin="miter"/>
<circle cx="857.2" cy="358.8" r="5.1" fill="#c55a5a" stroke="#222" stroke-width="0.85"/>
<circle cx="873.5" cy="372.4" r="5.1" fill="#d3b863" stroke="#222" stroke-width="0.85"/>
<circle cx="874.7" cy="366.1" r="5.1" fill="#c55a5a" stroke="#222" stroke-width="0.85"/>
<circle cx="882.6" cy="366.1" r="5.1" fill="#c55a5a" stroke="#222" stroke-width="0.85"/>
<circle cx="857.5" cy="384.2" r="5.1" fill="#d3b863" stroke="#222" stroke-width="0.85"/>
<circle cx="860.6" cy="391.6" r="5.1" fill="#d3b863" stroke="#222" stroke-width="0.85"/>
<circle cx="906.7" cy="270.9" r="5.1" fill="#d3b863" stroke="#222" stroke-width="0.85"/>
<circle cx="907.0" cy="266.7" r="5.1" fill="#7097c9" stroke="#222" stroke-width="0.85"/>
<circle cx="958.8" cy="252.4" r="5.1" fill="#7097c9" stroke="#222" stroke-width="0.85"/>
<circle cx="931.3" cy="281.3" r="5.1" fill="#d3b863" stroke="#222" stroke-width="0.85"/>
<circle cx="934.5" cy="287.1" r="5.1" fill="#d3b863" stroke="#222" stroke-width="0.85"/>
<circle cx="953.5" cy="315.4" r="5.1" fill="#c55a5a" stroke="#222" stroke-width="0.85"/>
<polygon points="911.50,316.30 913.03,319.50 916.54,319.96 913.97,322.40 914.62,325.89 911.50,324.20 908.38,325.89 909.03,322.40 906.46,319.96 909.97,319.50" fill="#d3b863" stroke="#222" stroke-width="0.8" stroke-linejoin="miter"/>
<circle cx="902.0" cy="323.2" r="5.1" fill="#c55a5a" stroke="#222" stroke-width="0.85"/>
<circle cx="907.0" cy="322.7" r="5.1" fill="#c55a5a" stroke="#222" stroke-width="0.85"/>
<circle cx="921.4" cy="340.3" r="5.1" fill="#7097c9" stroke="#222" stroke-width="0.85"/>
<circle cx="903.4" cy="365.4" r="5.1" fill="#d3b863" stroke="#222" stroke-width="0.85"/>
<circle cx="929.5" cy="366.1" r="5.1" fill="#c55a5a" stroke="#222" stroke-width="0.85"/>
<circle cx="917.0" cy="380.8" r="5.1" fill="#c55a5a" stroke="#222" stroke-width="0.85"/>
<circle cx="912.2" cy="385.0" r="5.1" fill="#c55a5a" stroke="#222" stroke-width="0.85"/>
<polygon points="882.60,398.30 884.13,401.50 887.64,401.96 885.07,404.40 885.72,407.89 882.60,406.20 879.48,407.89 880.13,404.40 877.56,401.96 881.07,401.50" fill="#b0412a" stroke="#222" stroke-width="0.8" stroke-linejoin="miter"/>
<circle cx="876.1" cy="402.6" r="5.1" fill="#c55a5a" stroke="#222" stroke-width="0.85"/>
<circle cx="887.0" cy="402.6" r="5.1" fill="#c55a5a" stroke="#222" stroke-width="0.85"/>
<circle cx="846.5" cy="417.7" r="5.1" fill="#d3b863" stroke="#222" stroke-width="0.85"/>
<circle cx="891.5" cy="449.5" r="5.1" fill="#c55a5a" stroke="#222" stroke-width="0.85"/>
<polygon points="854.50,451.90 856.03,455.10 859.54,455.56 856.97,458.00 857.62,461.49 854.50,459.80 851.38,461.49 852.03,458.00 849.46,455.56 852.97,455.10" fill="#d3b863" stroke="#222" stroke-width="0.8" stroke-linejoin="miter"/>
<polygon points="853.90,485.00 855.43,488.20 858.94,488.66 856.37,491.10 857.02,494.59 853.90,492.90 850.78,494.59 851.43,491.10 848.86,488.66 852.37,488.20" fill="#d3b863" stroke="#222" stroke-width="0.8" stroke-linejoin="miter"/>
<circle cx="871.7" cy="498.0" r="5.1" fill="#d3b863" stroke="#222" stroke-width="0.85"/>
<polygon points="905.70,397.30 907.23,400.50 910.74,400.96 908.17,403.40 908.82,406.89 905.70,405.20 902.58,406.89 903.23,403.40 900.66,400.96 904.17,400.50" fill="#d3b863" stroke="#222" stroke-width="0.8" stroke-linejoin="miter"/>
<circle cx="916.0" cy="424.0" r="5.1" fill="#c55a5a" stroke="#222" stroke-width="0.85"/>
<circle cx="927.2" cy="438.4" r="5.1" fill="#c55a5a" stroke="#222" stroke-width="0.85"/>
<circle cx="918.1" cy="442.3" r="5.1" fill="#c55a5a" stroke="#222" stroke-width="0.85"/>
<circle cx="928.2" cy="446.0" r="5.1" fill="#c55a5a" stroke="#222" stroke-width="0.85"/>
<circle cx="933.8" cy="456.7" r="5.1" fill="#c55a5a" stroke="#222" stroke-width="0.85"/>
<circle cx="946.0" cy="474.8" r="5.1" fill="#c55a5a" stroke="#222" stroke-width="0.85"/>
<circle cx="916.0" cy="500.1" r="5.1" fill="#c55a5a" stroke="#222" stroke-width="0.85"/>
<circle cx="937.1" cy="550.7" r="5.1" fill="#c55a5a" stroke="#222" stroke-width="0.85"/>
<circle cx="991.3" cy="438.7" r="5.1" fill="#c55a5a" stroke="#222" stroke-width="0.85"/>
<circle cx="1002.5" cy="435.0" r="5.1" fill="#c55a5a" stroke="#222" stroke-width="0.85"/>
<polygon points="1078.80,147.90 1080.33,151.10 1083.84,151.56 1081.27,154.00 1081.92,157.49 1078.80,155.80 1075.68,157.49 1076.33,154.00 1073.76,151.56 1077.27,151.10" fill="#b0412a" stroke="#222" stroke-width="0.8" stroke-linejoin="miter"/>
<circle cx="1063.7" cy="193.4" r="5.1" fill="#7097c9" stroke="#222" stroke-width="0.85"/>
<polygon points="1153.30,195.60 1154.83,198.80 1158.34,199.26 1155.77,201.70 1156.42,205.19 1153.30,203.50 1150.18,205.19 1150.83,201.70 1148.26,199.26 1151.77,198.80" fill="#7097c9" stroke="#222" stroke-width="0.8" stroke-linejoin="miter"/>
<circle cx="1071.3" cy="244.7" r="5.1" fill="#7097c9" stroke="#222" stroke-width="0.85"/>
<circle cx="1266.6" cy="259.3" r="5.1" fill="#7097c9" stroke="#222" stroke-width="0.85"/>
<circle cx="1371.3" cy="560.8" r="5.1" fill="#7097c9" stroke="#222" stroke-width="0.85"/>
<circle cx="1288.4" cy="602.8" r="5.5" fill="#231f20"/>
<circle cx="1332.7" cy="589.1" r="5.5" fill="#231f20"/>
<circle cx="1352.4" cy="648.1" r="5.5" fill="#231f20"/>
<circle cx="1329.3" cy="663.2" r="5.5" fill="#231f20"/>
<circle cx="1333.3" cy="666.9" r="5.5" fill="#231f20"/>
<circle cx="1308.1" cy="675.2" r="5.5" fill="#231f20"/>
<circle cx="973.1" cy="625.5" r="5.1" fill="#d3b863" stroke="#222" stroke-width="0.85"/>
</svg>
</body></html>
